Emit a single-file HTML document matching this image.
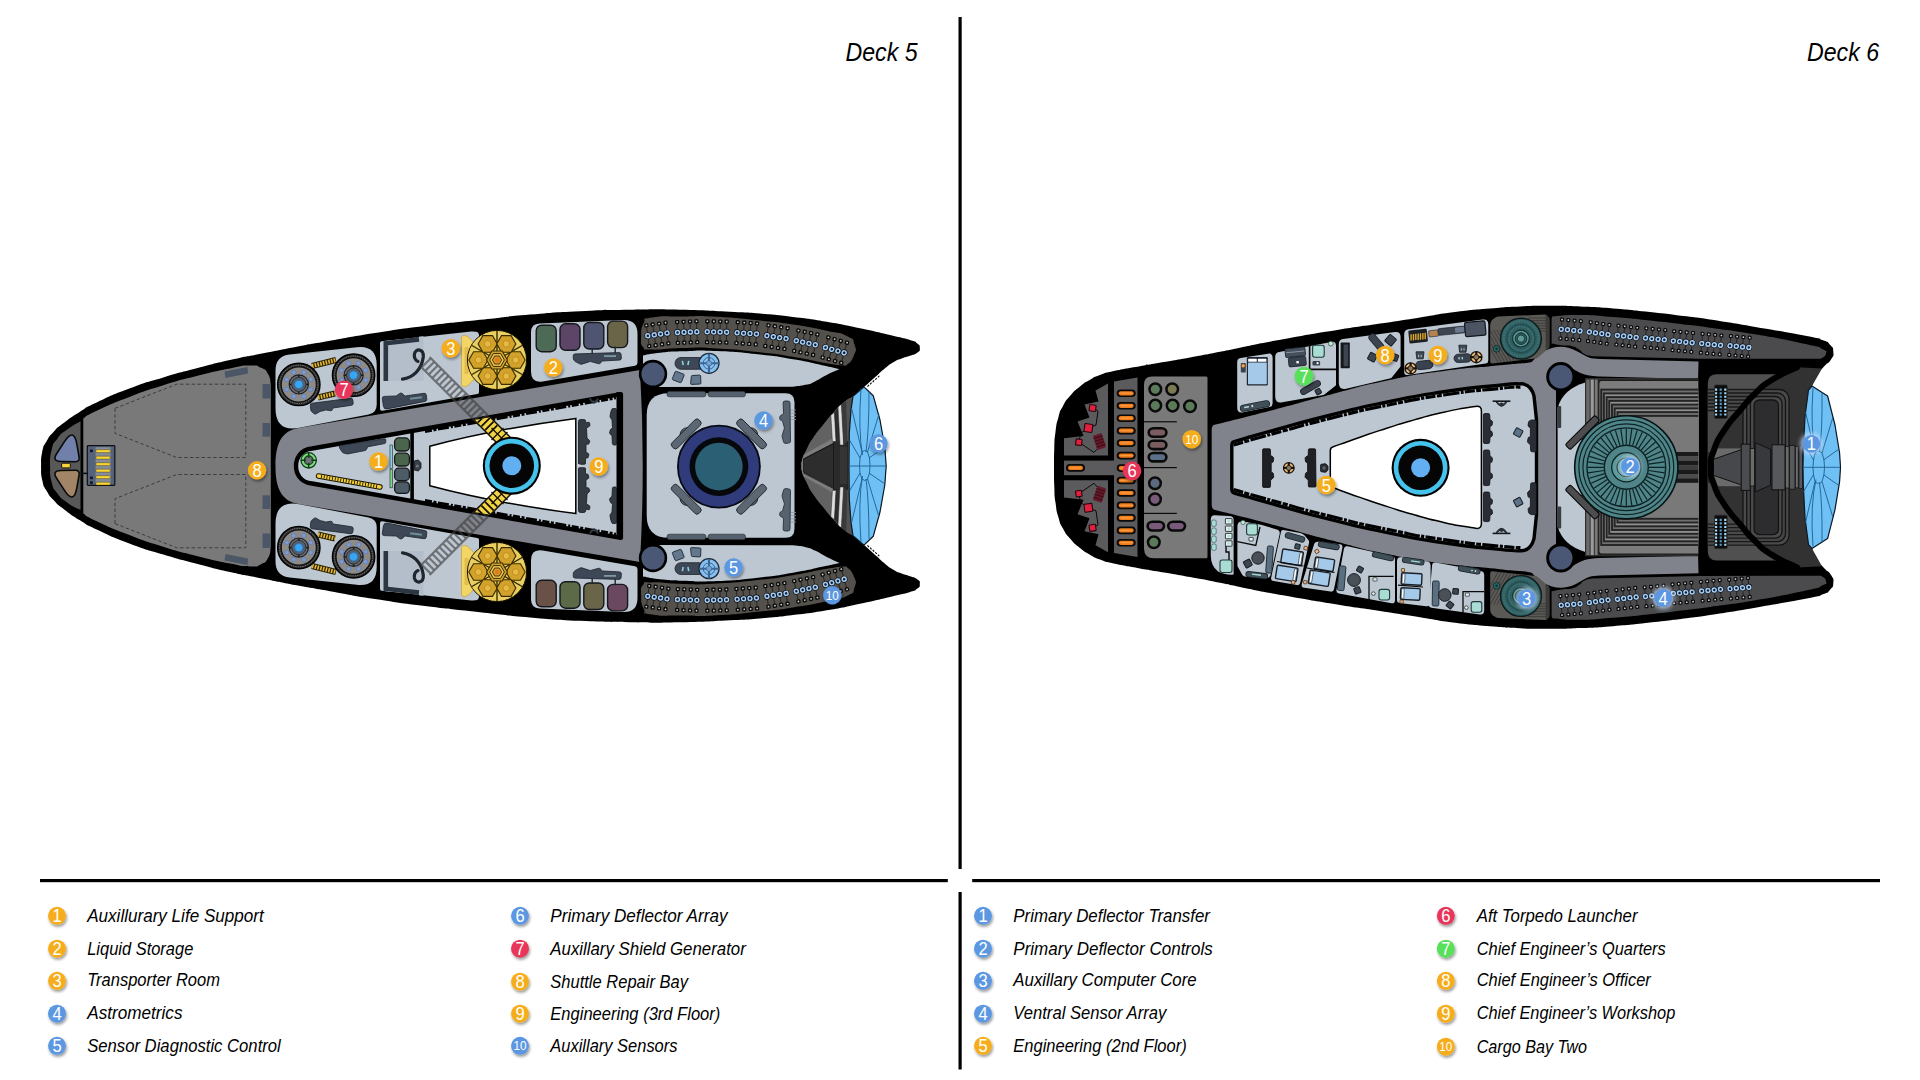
<!DOCTYPE html>
<html><head><meta charset="utf-8"><title>Deck 5 / Deck 6</title>
<style>
html,body{margin:0;padding:0;background:#fff;}
body{width:1920px;height:1080px;overflow:hidden;position:relative;font-family:"Liberation Sans",sans-serif;}
svg{position:absolute;left:0;top:0;display:block;}
svg text{font-family:"Liberation Sans",sans-serif;font-style:italic;fill:#000;}
</style></head><body>
<svg width="1920" height="1080" viewBox="0 0 1920 1080">
<defs>
<filter id="ds" x="-60%" y="-60%" width="240%" height="240%"><feGaussianBlur in="SourceAlpha" stdDeviation="1.6" result="b"/><feOffset in="b" dx="1.2" dy="2" result="o"/><feComponentTransfer in="o" result="s"><feFuncA type="linear" slope="0.42"/></feComponentTransfer><feMerge><feMergeNode in="s"/><feMergeNode in="SourceGraphic"/></feMerge></filter>
<filter id="bl" x="-80%" y="-80%" width="260%" height="260%"><feGaussianBlur stdDeviation="2"/></filter>
<filter id="gl" x="-80%" y="-80%" width="260%" height="260%"><feGaussianBlur in="SourceGraphic" stdDeviation="2.2" result="b"/><feMerge><feMergeNode in="b"/><feMergeNode in="SourceGraphic"/></feMerge></filter>
<g id="sc5"><rect x="-0.5" y="-8.5" width="1" height="17" fill="#262422"/><rect x="-2.1" y="-12.6" width="4.2" height="4.2" fill="#090909" rx="1.2"/><rect x="-0.8" y="-11.3" width="1.6" height="1.6" fill="#cfd6d8" rx="0.3"/><circle cx="0" cy="0" r="3.4" fill="#0a0e14"/><circle cx="0" cy="0" r="2" fill="#0c1c3e" stroke="#a6cdf0" stroke-width="1.5"/><rect x="-2.1" y="8.3" width="4.2" height="4.2" fill="#090909" rx="1.2"/><rect x="-0.8" y="9.6" width="1.6" height="1.6" fill="#cfd6d8" rx="0.3"/><rect x="6" y="-8.5" width="1" height="17" fill="#262422"/><rect x="4.3" y="-12.6" width="4.2" height="4.2" fill="#090909" rx="1.2"/><rect x="5.7" y="-11.3" width="1.6" height="1.6" fill="#cfd6d8" rx="0.3"/><circle cx="6.5" cy="0" r="3.4" fill="#0a0e14"/><circle cx="6.5" cy="0" r="2" fill="#0c1c3e" stroke="#a6cdf0" stroke-width="1.5"/><rect x="4.3" y="8.3" width="4.2" height="4.2" fill="#090909" rx="1.2"/><rect x="5.7" y="9.6" width="1.6" height="1.6" fill="#cfd6d8" rx="0.3"/><rect x="12.4" y="-8.5" width="1" height="17" fill="#262422"/><rect x="10.8" y="-12.6" width="4.2" height="4.2" fill="#090909" rx="1.2"/><rect x="12.1" y="-11.3" width="1.6" height="1.6" fill="#cfd6d8" rx="0.3"/><circle cx="12.9" cy="0" r="3.4" fill="#0a0e14"/><circle cx="12.9" cy="0" r="2" fill="#0c1c3e" stroke="#a6cdf0" stroke-width="1.5"/><rect x="10.8" y="8.3" width="4.2" height="4.2" fill="#090909" rx="1.2"/><rect x="12.1" y="9.6" width="1.6" height="1.6" fill="#cfd6d8" rx="0.3"/><rect x="18.9" y="-8.5" width="1" height="17" fill="#262422"/><rect x="17.2" y="-12.6" width="4.2" height="4.2" fill="#090909" rx="1.2"/><rect x="18.6" y="-11.3" width="1.6" height="1.6" fill="#cfd6d8" rx="0.3"/><circle cx="19.4" cy="0" r="3.4" fill="#0a0e14"/><circle cx="19.4" cy="0" r="2" fill="#0c1c3e" stroke="#a6cdf0" stroke-width="1.5"/><rect x="17.2" y="8.3" width="4.2" height="4.2" fill="#090909" rx="1.2"/><rect x="18.6" y="9.6" width="1.6" height="1.6" fill="#cfd6d8" rx="0.3"/></g>
<g id="wh5"><circle cx="0" cy="0" r="21.2" fill="#2a2a2a" stroke="#000" stroke-width="1.4"/><circle cx="0" cy="0" r="19.2" fill="none" stroke="#999" stroke-width="0.8" stroke-dasharray="1.2 1.2"/><circle cx="0" cy="0" r="17.6" fill="#8d8b88" stroke="#111" stroke-width="1.2"/><circle cx="12" cy="5" r="2.2" fill="#7f9ad0" stroke="#5a78b8" stroke-width="0.6"/><circle cx="5" cy="12" r="2.2" fill="#7f9ad0" stroke="#5a78b8" stroke-width="0.6"/><circle cx="-5" cy="12" r="2.2" fill="#7f9ad0" stroke="#5a78b8" stroke-width="0.6"/><circle cx="-12" cy="5" r="2.2" fill="#7f9ad0" stroke="#5a78b8" stroke-width="0.6"/><circle cx="-12" cy="-5" r="2.2" fill="#7f9ad0" stroke="#5a78b8" stroke-width="0.6"/><circle cx="-5" cy="-12" r="2.2" fill="#7f9ad0" stroke="#5a78b8" stroke-width="0.6"/><circle cx="5" cy="-12" r="2.2" fill="#7f9ad0" stroke="#5a78b8" stroke-width="0.6"/><circle cx="12" cy="-5" r="2.2" fill="#7f9ad0" stroke="#5a78b8" stroke-width="0.6"/><circle cx="0" cy="0" r="9.6" fill="#6b7078" stroke="#222" stroke-width="1.2"/><circle cx="0" cy="0" r="7.2" fill="#55606e" stroke="#222" stroke-width="0.8"/><circle cx="8.4" cy="0" r="0.9" fill="#111"/><circle cx="0" cy="8.4" r="0.9" fill="#111"/><circle cx="-8.4" cy="0" r="0.9" fill="#111"/><circle cx="-0" cy="-8.4" r="0.9" fill="#111"/><circle cx="0" cy="0" r="4.2" fill="#38a4f2" stroke="#2a6aa8" stroke-width="0.6"/></g>
<g id="tp5"><circle cx="0" cy="0" r="29.6" fill="#e9cf62" stroke="#1a1400" stroke-width="1"/><line x1="0" y1="0" x2="25.1" y2="14.5" stroke="#3a2c00" stroke-width="1.4"/><line x1="0" y1="0" x2="0" y2="29" stroke="#3a2c00" stroke-width="1.4"/><line x1="0" y1="0" x2="-25.1" y2="14.5" stroke="#3a2c00" stroke-width="1.4"/><line x1="0" y1="0" x2="-25.1" y2="-14.5" stroke="#3a2c00" stroke-width="1.4"/><line x1="0" y1="0" x2="-0" y2="-29" stroke="#3a2c00" stroke-width="1.4"/><line x1="0" y1="0" x2="25.1" y2="-14.5" stroke="#3a2c00" stroke-width="1.4"/><polygon points="28.2,0 23.4,8.3 13.8,8.3 9,0 13.8,-8.3 23.4,-8.3" fill="#d3a22b" stroke="#3a2c00" stroke-width="1.1"/><circle cx="18.6" cy="0" r="3.3" fill="#e6b944" stroke="#b8861a" stroke-width="0.8"/><polygon points="18.9,16.1 14.1,24.4 4.5,24.4 -0.3,16.1 4.5,7.8 14.1,7.8" fill="#d3a22b" stroke="#3a2c00" stroke-width="1.1"/><circle cx="9.3" cy="16.1" r="3.3" fill="#e6b944" stroke="#b8861a" stroke-width="0.8"/><polygon points="0.3,16.1 -4.5,24.4 -14.1,24.4 -18.9,16.1 -14.1,7.8 -4.5,7.8" fill="#d3a22b" stroke="#3a2c00" stroke-width="1.1"/><circle cx="-9.3" cy="16.1" r="3.3" fill="#e6b944" stroke="#b8861a" stroke-width="0.8"/><polygon points="-9,0 -13.8,8.3 -23.4,8.3 -28.2,0 -23.4,-8.3 -13.8,-8.3" fill="#d3a22b" stroke="#3a2c00" stroke-width="1.1"/><circle cx="-18.6" cy="0" r="3.3" fill="#e6b944" stroke="#b8861a" stroke-width="0.8"/><polygon points="0.3,-16.1 -4.5,-7.8 -14.1,-7.8 -18.9,-16.1 -14.1,-24.4 -4.5,-24.4" fill="#d3a22b" stroke="#3a2c00" stroke-width="1.1"/><circle cx="-9.3" cy="-16.1" r="3.3" fill="#e6b944" stroke="#b8861a" stroke-width="0.8"/><polygon points="18.9,-16.1 14.1,-7.8 4.5,-7.8 -0.3,-16.1 4.5,-24.4 14.1,-24.4" fill="#d3a22b" stroke="#3a2c00" stroke-width="1.1"/><circle cx="9.3" cy="-16.1" r="3.3" fill="#e6b944" stroke="#b8861a" stroke-width="0.8"/><polygon points="10.4,0 5.2,9 -5.2,9 -10.4,0 -5.2,-9 5.2,-9" fill="#d3a22b" stroke="#3a2c00" stroke-width="1.1"/><polygon points="7.4,0 3.7,6.4 -3.7,6.4 -7.4,0 -3.7,-6.4 3.7,-6.4" fill="#e9c654" stroke="#3a2c00" stroke-width="1"/><polygon points="4.6,0 2.3,4 -2.3,4 -4.6,0 -2.3,-4 2.3,-4" fill="#d89a2a" stroke="#3a2c00" stroke-width="0.9"/><circle cx="0" cy="0" r="2.2" fill="#e07a1a"/></g>
<g id="sc6"><rect x="-0.5" y="-8" width="1" height="16" fill="#232325"/><rect x="-2" y="-11.8" width="4" height="4" fill="#090909" rx="1.2"/><rect x="-0.8" y="-10.6" width="1.6" height="1.6" fill="#cfd6d8" rx="0.3"/><circle cx="0" cy="0" r="3.3" fill="#0a0e14"/><circle cx="0" cy="0" r="2" fill="#0c1c3e" stroke="#a6cdf0" stroke-width="1.5"/><rect x="-2" y="7.2" width="4" height="4" fill="#090909" rx="1.2"/><rect x="-0.8" y="8.4" width="1.6" height="1.6" fill="#cfd6d8" rx="0.3"/><rect x="5.8" y="-8" width="1" height="16" fill="#232325"/><rect x="4.3" y="-11.8" width="4" height="4" fill="#090909" rx="1.2"/><rect x="5.5" y="-10.6" width="1.6" height="1.6" fill="#cfd6d8" rx="0.3"/><circle cx="6.3" cy="0" r="3.3" fill="#0a0e14"/><circle cx="6.3" cy="0" r="2" fill="#0c1c3e" stroke="#a6cdf0" stroke-width="1.5"/><rect x="4.3" y="7.2" width="4" height="4" fill="#090909" rx="1.2"/><rect x="5.5" y="8.4" width="1.6" height="1.6" fill="#cfd6d8" rx="0.3"/><rect x="12.1" y="-8" width="1" height="16" fill="#232325"/><rect x="10.6" y="-11.8" width="4" height="4" fill="#090909" rx="1.2"/><rect x="11.8" y="-10.6" width="1.6" height="1.6" fill="#cfd6d8" rx="0.3"/><circle cx="12.6" cy="0" r="3.3" fill="#0a0e14"/><circle cx="12.6" cy="0" r="2" fill="#0c1c3e" stroke="#a6cdf0" stroke-width="1.5"/><rect x="10.6" y="7.2" width="4" height="4" fill="#090909" rx="1.2"/><rect x="11.8" y="8.4" width="1.6" height="1.6" fill="#cfd6d8" rx="0.3"/><rect x="18.4" y="-8" width="1" height="16" fill="#232325"/><rect x="16.9" y="-11.8" width="4" height="4" fill="#090909" rx="1.2"/><rect x="18.1" y="-10.6" width="1.6" height="1.6" fill="#cfd6d8" rx="0.3"/><circle cx="18.9" cy="0" r="3.3" fill="#0a0e14"/><circle cx="18.9" cy="0" r="2" fill="#0c1c3e" stroke="#a6cdf0" stroke-width="1.5"/><rect x="16.9" y="7.2" width="4" height="4" fill="#090909" rx="1.2"/><rect x="18.1" y="8.4" width="1.6" height="1.6" fill="#cfd6d8" rx="0.3"/></g>
<g id="cc6"><circle cx="0" cy="0" r="20.4" fill="#2e5c5f" stroke="#0c1a1a" stroke-width="1.4"/><circle cx="0" cy="0" r="17.5" fill="none" stroke="#467a7c" stroke-width="2.6" stroke-dasharray="0.7 0.9"/><circle cx="0" cy="0" r="14.2" fill="none" stroke="#1a4446" stroke-width="0.8"/><circle cx="0" cy="0" r="12" fill="none" stroke="#467a7c" stroke-width="1.8" stroke-dasharray="0.7 0.9"/><circle cx="0" cy="0" r="8.4" fill="#5f9a98" stroke="#11302f" stroke-width="1.2"/><circle cx="0" cy="0" r="5.8" fill="#2e5c5f" stroke="#11302f" stroke-width="1"/><circle cx="0" cy="0" r="3.6" fill="#5f9a98" stroke="#11302f" stroke-width="0.8"/></g>
<g id="cap6"><rect x="-9.5" y="-3.8" width="19" height="7.6" fill="#0a0a0a" rx="3.8"/><rect x="-7.5" y="-2.1" width="15" height="4.2" fill="#ee7d1c" rx="2.1"/><rect x="-6" y="-0.7" width="12" height="1.2" fill="#ff9a40" rx="0.6"/></g>
<g id="st6"><circle cx="0" cy="0" r="5.6" fill="#e8bb80" stroke="#1a1208" stroke-width="1.3"/><path d="M0 -5.6V5.6M-5.6 0H5.6" fill="none" stroke="#1a1208" stroke-width="2.2"/><circle cx="0" cy="0" r="2.6" fill="#8a7a62" stroke="#1a1208" stroke-width="0.9"/></g>
</defs>
<g id="frame">
<rect x="958.5" y="17" width="3.2" height="852" fill="#000"/>
<rect x="958.5" y="892" width="3.2" height="177.5" fill="#000"/>
<rect x="40" y="879" width="907.8" height="3.2" fill="#000"/>
<rect x="972.2" y="879" width="907.8" height="3.2" fill="#000"/>
<text x="845.5" y="60.7" font-size="26" textLength="72" lengthAdjust="spacingAndGlyphs">Deck 5</text>
<text x="1807" y="60.7" font-size="26" textLength="72" lengthAdjust="spacingAndGlyphs">Deck 6</text>
<g filter="url(#ds)"><circle cx="57" cy="915.8" r="9" fill="#f6ad1e"/></g><text x="57" y="922.3" font-size="18.4" text-anchor="middle" style="fill:#fff;font-style:normal" textLength="9.2" lengthAdjust="spacingAndGlyphs">1</text>
<text x="87.2" y="921.7" font-size="17.6" textLength="176.5" lengthAdjust="spacingAndGlyphs">Auxillurary Life Support</text>
<g filter="url(#ds)"><circle cx="57" cy="948.7" r="9" fill="#f6ad1e"/></g><text x="57" y="955.2" font-size="18.4" text-anchor="middle" style="fill:#fff;font-style:normal" textLength="9.2" lengthAdjust="spacingAndGlyphs">2</text>
<text x="87.2" y="954.7" font-size="17.6" textLength="106.1" lengthAdjust="spacingAndGlyphs">Liquid Storage</text>
<g filter="url(#ds)"><circle cx="57" cy="980.8" r="9" fill="#f6ad1e"/></g><text x="57" y="987.3" font-size="18.4" text-anchor="middle" style="fill:#fff;font-style:normal" textLength="9.2" lengthAdjust="spacingAndGlyphs">3</text>
<text x="87.2" y="986.2" font-size="17.6" textLength="132.8" lengthAdjust="spacingAndGlyphs">Transporter Room</text>
<g filter="url(#ds)"><circle cx="57" cy="1013.7" r="9" fill="#5b97e2"/></g><text x="57" y="1020.2" font-size="18.4" text-anchor="middle" style="fill:#fff;font-style:normal" textLength="9.2" lengthAdjust="spacingAndGlyphs">4</text>
<text x="87.2" y="1018.7" font-size="17.6" textLength="95.3" lengthAdjust="spacingAndGlyphs">Astrometrics</text>
<g filter="url(#ds)"><circle cx="57" cy="1045.8" r="9" fill="#5b97e2"/></g><text x="57" y="1052.3" font-size="18.4" text-anchor="middle" style="fill:#fff;font-style:normal" textLength="9.2" lengthAdjust="spacingAndGlyphs">5</text>
<text x="87.2" y="1051.7" font-size="17.6" textLength="193.6" lengthAdjust="spacingAndGlyphs">Sensor Diagnostic Control</text>
<g filter="url(#ds)"><circle cx="520" cy="915.8" r="9" fill="#5b97e2"/></g><text x="520" y="922.3" font-size="18.4" text-anchor="middle" style="fill:#fff;font-style:normal" textLength="9.2" lengthAdjust="spacingAndGlyphs">6</text>
<text x="550.3" y="921.7" font-size="17.6" textLength="177.2" lengthAdjust="spacingAndGlyphs">Primary Deflector Array</text>
<g filter="url(#ds)"><circle cx="520" cy="948.7" r="9" fill="#e8365a"/></g><text x="520" y="955.2" font-size="18.4" text-anchor="middle" style="fill:#fff;font-style:normal" textLength="9.2" lengthAdjust="spacingAndGlyphs">7</text>
<text x="550.3" y="954.7" font-size="17.6" textLength="195.5" lengthAdjust="spacingAndGlyphs">Auxillary Shield Generator</text>
<g filter="url(#ds)"><circle cx="520" cy="981.7" r="9" fill="#f6ad1e"/></g><text x="520" y="988.2" font-size="18.4" text-anchor="middle" style="fill:#fff;font-style:normal" textLength="9.2" lengthAdjust="spacingAndGlyphs">8</text>
<text x="550.3" y="988" font-size="17.6" textLength="137.7" lengthAdjust="spacingAndGlyphs">Shuttle Repair Bay</text>
<g filter="url(#ds)"><circle cx="520" cy="1013.7" r="9" fill="#f6ad1e"/></g><text x="520" y="1020.2" font-size="18.4" text-anchor="middle" style="fill:#fff;font-style:normal" textLength="9.2" lengthAdjust="spacingAndGlyphs">9</text>
<text x="550.3" y="1019.7" font-size="17.6" textLength="170" lengthAdjust="spacingAndGlyphs">Engineering (3rd Floor)</text>
<g filter="url(#ds)"><circle cx="520" cy="1045.8" r="9" fill="#5b97e2"/></g><text x="520" y="1050.3" font-size="12.6" text-anchor="middle" style="fill:#fff;font-style:normal" textLength="13" lengthAdjust="spacingAndGlyphs">10</text>
<text x="550.3" y="1051.7" font-size="17.6" textLength="127.2" lengthAdjust="spacingAndGlyphs">Auxillary Sensors</text>
<g filter="url(#ds)"><circle cx="983" cy="915.8" r="9" fill="#5b97e2"/></g><text x="983" y="922.3" font-size="18.4" text-anchor="middle" style="fill:#fff;font-style:normal" textLength="9.2" lengthAdjust="spacingAndGlyphs">1</text>
<text x="1013.3" y="921.7" font-size="17.6" textLength="196.7" lengthAdjust="spacingAndGlyphs">Primary Deflector Transfer</text>
<g filter="url(#ds)"><circle cx="983" cy="948.7" r="9" fill="#5b97e2"/></g><text x="983" y="955.2" font-size="18.4" text-anchor="middle" style="fill:#fff;font-style:normal" textLength="9.2" lengthAdjust="spacingAndGlyphs">2</text>
<text x="1013.3" y="954.7" font-size="17.6" textLength="199.5" lengthAdjust="spacingAndGlyphs">Primary Deflector Controls</text>
<g filter="url(#ds)"><circle cx="983" cy="980.8" r="9" fill="#5b97e2"/></g><text x="983" y="987.3" font-size="18.4" text-anchor="middle" style="fill:#fff;font-style:normal" textLength="9.2" lengthAdjust="spacingAndGlyphs">3</text>
<text x="1013.3" y="986.2" font-size="17.6" textLength="183.4" lengthAdjust="spacingAndGlyphs">Auxillary Computer Core</text>
<g filter="url(#ds)"><circle cx="983" cy="1013.7" r="9" fill="#5b97e2"/></g><text x="983" y="1020.2" font-size="18.4" text-anchor="middle" style="fill:#fff;font-style:normal" textLength="9.2" lengthAdjust="spacingAndGlyphs">4</text>
<text x="1013.3" y="1018.7" font-size="17.6" textLength="153" lengthAdjust="spacingAndGlyphs">Ventral Sensor Array</text>
<g filter="url(#ds)"><circle cx="983" cy="1045.8" r="9" fill="#f6ad1e"/></g><text x="983" y="1052.3" font-size="18.4" text-anchor="middle" style="fill:#fff;font-style:normal" textLength="9.2" lengthAdjust="spacingAndGlyphs">5</text>
<text x="1013.3" y="1051.7" font-size="17.6" textLength="173.4" lengthAdjust="spacingAndGlyphs">Engineering (2nd Floor)</text>
<g filter="url(#ds)"><circle cx="1445.8" cy="915.8" r="9" fill="#e8365a"/></g><text x="1445.8" y="922.3" font-size="18.4" text-anchor="middle" style="fill:#fff;font-style:normal" textLength="9.2" lengthAdjust="spacingAndGlyphs">6</text>
<text x="1476.7" y="921.7" font-size="17.6" textLength="160.8" lengthAdjust="spacingAndGlyphs">Aft Torpedo Launcher</text>
<g filter="url(#ds)"><circle cx="1445.8" cy="948.7" r="9" fill="#58e05a"/></g><text x="1445.8" y="955.2" font-size="18.4" text-anchor="middle" style="fill:#fff;font-style:normal" textLength="9.2" lengthAdjust="spacingAndGlyphs">7</text>
<text x="1476.7" y="954.7" font-size="17.6" textLength="189.1" lengthAdjust="spacingAndGlyphs">Chief Engineer’s Quarters</text>
<g filter="url(#ds)"><circle cx="1445.8" cy="980.8" r="9" fill="#f6ad1e"/></g><text x="1445.8" y="987.3" font-size="18.4" text-anchor="middle" style="fill:#fff;font-style:normal" textLength="9.2" lengthAdjust="spacingAndGlyphs">8</text>
<text x="1476.7" y="986.2" font-size="17.6" textLength="174.1" lengthAdjust="spacingAndGlyphs">Chief Engineer’s Officer</text>
<g filter="url(#ds)"><circle cx="1445.8" cy="1013.7" r="9" fill="#f6ad1e"/></g><text x="1445.8" y="1020.2" font-size="18.4" text-anchor="middle" style="fill:#fff;font-style:normal" textLength="9.2" lengthAdjust="spacingAndGlyphs">9</text>
<text x="1476.7" y="1018.7" font-size="17.6" textLength="198.6" lengthAdjust="spacingAndGlyphs">Chief Engineer’s Workshop</text>
<g filter="url(#ds)"><circle cx="1445.8" cy="1046.7" r="9" fill="#f6ad1e"/></g><text x="1445.8" y="1051.2" font-size="12.6" text-anchor="middle" style="fill:#fff;font-style:normal" textLength="13" lengthAdjust="spacingAndGlyphs">10</text>
<text x="1476.7" y="1052.5" font-size="17.6" textLength="110.3" lengthAdjust="spacingAndGlyphs">Cargo Bay Two</text>
</g>
<g id="deck5">
<path d="M41 466C41.4 461.3 40.3 460.3 42.2 452C44.1 443.7 42.8 447.8 46.7 441C50.6 434.2 48.5 437.4 54 431.5C59.5 425.6 54.6 429.9 63.3 423.3C72 416.7 68.9 418.6 80 411.7C91.1 404.8 80 410.3 96.7 402.5C113.4 394.7 107.8 396.6 130 388.3C152.2 380 141.1 384.2 163.3 377.5C185.5 370.8 174.5 374.1 196.7 368.3C218.9 362.5 207.8 365 230 360C252.2 355 241.1 357.7 263.3 353.3C285.5 348.9 274.5 350.9 296.7 346.7C318.9 342.5 303.9 345.4 330 340.8C356.1 336.2 343.3 337.9 375 333C406.7 328.1 390 330.4 425 326C460 321.6 445 323.6 480 319.8C515 316 496.7 317.5 530 314.6C563.3 311.7 546.7 312.8 580 311.2C613.3 309.6 596.7 310.3 630 309.8C663.3 309.3 646.7 309.1 680 309.8C713.3 310.5 703.3 310.5 730 311.8C756.7 313.1 739 311.9 760 313.6C781 315.3 770.8 314.2 793 316.9C815.2 319.6 804.4 317.9 826.7 321.7C849 325.5 837.9 323.6 860 328.3C882.1 333 876.3 331.9 893 335.8C909.7 339.7 902 337.5 910 340C918 342.5 913.7 340.5 917 343.2C920.3 345.9 919.7 344.8 919.8 348C919.9 351.2 920.5 350.2 917.2 352.8C913.9 355.4 915.2 353.9 910 355.8C904.8 357.7 907.4 356.3 901.7 358.5C896 360.7 898.6 359.2 893 362.5C887.4 365.8 890.4 363.9 885 368.3C879.6 372.7 882.3 370.8 876.7 375.8C871.1 380.8 872.5 379.6 868.3 383.3C864.1 387 865.4 385.7 864 386.9L873.3 395.8L880 420L884.8 447L886.2 466L884.8 485L880 512L873.3 536.2L864 545.1C865.4 546.3 864.1 545 868.3 548.7C872.5 552.4 871.1 551.2 876.7 556.2C882.3 561.2 879.6 559.3 885 563.7C890.4 568.1 887.4 566.2 893 569.5C898.6 572.8 896 571.3 901.7 573.5C907.4 575.7 904.8 574.3 910 576.2C915.2 578.1 913.9 576.6 917.2 579.2C920.5 581.8 919.9 580.8 919.8 584C919.7 587.2 920.3 586.1 917 588.8C913.7 591.5 918 589.5 910 592C902 594.5 909.7 592.3 893 596.2C876.3 600.1 882.1 599 860 603.7C837.9 608.4 849 606.5 826.7 610.3C804.4 614.1 815.2 612.4 793 615.1C770.8 617.8 781 616.7 760 618.4C739 620.1 756.7 618.9 730 620.2C703.3 621.5 713.3 621.5 680 622.2C646.7 622.9 663.3 622.7 630 622.2C596.7 621.7 613.3 622.4 580 620.8C546.7 619.2 563.3 620.3 530 617.4C496.7 614.5 515 616 480 612.2C445 608.4 460 610.4 425 606C390 601.6 406.7 603.9 375 599C343.3 594.1 356.1 595.8 330 591.2C303.9 586.6 318.9 589.5 296.7 585.3C274.5 581.1 285.5 583.1 263.3 578.7C241.1 574.3 252.2 577 230 572C207.8 567 218.9 569.5 196.7 563.7C174.5 557.9 185.5 561.2 163.3 554.5C141.1 547.8 152.2 552 130 543.7C107.8 535.4 113.4 537.3 96.7 529.5C80 521.7 91.1 527.2 80 520.3C68.9 513.4 72 515.3 63.3 508.7C54.6 502.1 59.5 506.4 54 500.5C48.5 494.6 50.6 497.8 46.7 491C42.8 484.2 44.1 488.3 42.2 480C40.3 471.7 41.4 470.7 41 466Z" fill="#000"/>
<path d="M50 466C50.5 460.7 49.1 459.2 51.6 450C54.1 440.8 52.5 445.2 57.5 438.5C62.5 431.8 58.8 435.8 66.5 430C74.2 424.2 75.8 424.1 80.5 421.2L80.5 509.8C75.8 507.9 74.2 507.8 66.5 502C58.8 496.2 62.5 500.2 57.5 493.5C52.5 486.8 54.1 491.2 51.6 482C49.1 472.8 50.5 471.3 50 466Z" fill="#585858"/>
<path d="M60.8 461.5Q51.8 461.3 56.6 453.8L64.3 441.9Q73.8 427 76.9 444.4L79.1 457Q80 461.8 75.1 461.7Z" fill="#7080aa" stroke="#0a0a0a" stroke-width="1.6"/>
<path d="M60.8 470.5Q51.8 470.7 56.6 478.2L64.3 490.1Q73.8 505 76.9 487.6L79.1 475Q80 470.2 75.1 470.3Z" fill="#a18566" stroke="#0a0a0a" stroke-width="1.6"/>
<rect x="61.6" y="463.2" width="8.7" height="4.7" fill="#f6d43a" rx="0.6" stroke="#111" stroke-width="1"/>
<path d="M83.3 418.6C87.8 416 81.1 418.1 96.7 410.8C112.3 403.5 107.8 405.2 130 396.7C152.2 388.2 141.1 392.1 163.3 385.2C185.5 378.3 174.5 381.6 196.7 376C218.9 370.4 212.2 372 230 368.5C247.8 365 239.7 365.8 250 365.6C260.3 365.4 255 365 261 367.8C267 370.6 264.7 368.6 268 374C271.3 379.4 269.9 380.7 270.8 384L270.8 547C269.9 551.3 271.3 552.6 268 558C264.7 563.4 267 561.4 261 564.2C255 567 260.3 566.6 250 566.4C239.7 566.2 247.8 567 230 563.5C212.2 560 218.9 561.6 196.7 556C174.5 550.4 185.5 553.7 163.3 546.8C141.1 539.9 152.2 543.8 130 535.3C107.8 526.8 112.3 528.5 96.7 521.2C81.1 513.9 87.8 516 83.3 513.4Z" fill="#797979"/>
<path d="M115 408.3L176.7 384.2L245.8 384.2L245.8 457.5L176.7 457.5L115 433.3Z" fill="none" stroke="#3c3c3c" stroke-width="1" stroke-dasharray="3.4 2.4"/>
<path d="M115 523.7L176.7 547.8L245.8 547.8L245.8 474.5L176.7 474.5L115 498.7Z" fill="none" stroke="#3c3c3c" stroke-width="1" stroke-dasharray="3.4 2.4"/>
<rect x="262.5" y="384" width="8.3" height="14.5" fill="#4b5666"/>
<rect x="262.5" y="533.5" width="8.3" height="14.5" fill="#4b5666"/>
<rect x="262.5" y="423" width="7.5" height="13.7" fill="#4b5666"/>
<rect x="262.5" y="495.3" width="7.5" height="13.7" fill="#4b5666"/>
<path d="M224.5 371.5L247.5 367L248 373.5L225.5 378Z" fill="#4b5666"/>
<path d="M224.5 560.5L247.5 565L248 558.5L225.5 554Z" fill="#4b5666"/>
<rect x="87.3" y="445.7" width="27.5" height="39.6" fill="#55637a" rx="0.8" stroke="#0c1016" stroke-width="1.2"/>
<rect x="95.6" y="447.2" width="15" height="36.6" fill="#868d96"/>
<rect x="80.5" y="472.6" width="7" height="1.6" fill="#0c1016"/>
<rect x="96" y="449.7" width="14.2" height="2.9" fill="#f6d43a" rx="0.6" stroke="#3a3000" stroke-width="0.4"/>
<rect x="96" y="456.2" width="14.2" height="2.9" fill="#f6d43a" rx="0.6" stroke="#3a3000" stroke-width="0.4"/>
<rect x="96" y="462.7" width="14.2" height="2.9" fill="#f6d43a" rx="0.6" stroke="#3a3000" stroke-width="0.4"/>
<rect x="96" y="469.2" width="14.2" height="2.9" fill="#f6d43a" rx="0.6" stroke="#3a3000" stroke-width="0.4"/>
<rect x="96" y="475.7" width="14.2" height="2.9" fill="#f6d43a" rx="0.6" stroke="#3a3000" stroke-width="0.4"/>
<rect x="96" y="482.2" width="14.2" height="2.9" fill="#f6d43a" rx="0.6" stroke="#3a3000" stroke-width="0.4"/>
<rect x="90" y="449.4" width="2.8" height="2.8" fill="#10141c" rx="0.8"/>
<rect x="90" y="476.4" width="2.8" height="2.8" fill="#10141c" rx="0.8"/>
<rect x="90" y="481.2" width="2.8" height="2.8" fill="#10141c" rx="0.8"/>
<path d="M300 427.8L640 370Q645.5 466 640 562L300 504.2C279 501.6 275.5 484 275.5 466C275.5 448 279 430.4 300 427.8 Z" fill="#80838b"/>
<path d="M312 448.5L620.9 394.2L620.9 537.8L312 483.5C300 482.4 296 473 296 466C296 459 300 449.6 312 448.5 Z" fill="#bdc7d1" stroke="#000" stroke-width="4.4" stroke-linejoin="round"/>
<g id="d5top"><path d="M275.5 370.4Q275.5 356 289.8 354.4L356.8 347.2Q376.7 345 376.7 365.1L376.7 404.7Q376.7 413 368.6 414.6L299.3 427.8Q275.5 432.4 275.5 408.2Z" fill="#bdc7d1"/><line x1="312" y1="366" x2="336" y2="360" stroke="#2a2200" stroke-width="6"/><line x1="312" y1="366" x2="336" y2="360" stroke="#e6b93a" stroke-width="4.2" stroke-dasharray="1.6 1.2"/><line x1="318" y1="397.5" x2="335" y2="393.5" stroke="#2a2200" stroke-width="6"/><line x1="318" y1="397.5" x2="335" y2="393.5" stroke="#e6b93a" stroke-width="4.2" stroke-dasharray="1.6 1.2"/><use href="#wh5" x="298.8" y="384.4"/><use href="#wh5" x="353.6" y="375.2"/><path d="M310.3 405.5Q310 403.5 312 403.2L350.5 398.3Q352.5 398 352.8 400L353.2 403Q353.5 405 351.5 405.3L333.6 407.9Q333 408 332.8 408.6L332.5 409.5Q332 411 330.4 410.7L326.4 410.1Q326 410 325.6 410.1L320.3 411.4Q320 411.5 319.7 411.7L316.2 413.8Q315 414.5 313.9 413.5L311.6 411.5Q311 411 310.9 410.3Z" fill="#3d4755" stroke="#1c222c" stroke-width="0.8"/><path d="M380 343.3Q380 341.5 381.8 341.3L471.3 331.6Q472 331.5 472.7 331.6L475.5 331.8Q479 332 479 335.5L479 392.2Q479 393.9 477.3 394.1L382.3 410.8Q380 411.2 380 408.8Z" fill="#bdc7d1"/><path d="M383.8 341L418 338L419.5 336.6L423.5 336.2L423.5 381L383.8 381Z" fill="#b3beca"/><path d="M385.8 381V343.2L419 339.4" fill="none" stroke="#2c3642" stroke-width="4.6"/><path d="M402.5 379.2C413 377.5 421.5 370 423.3 357C424 348.5 415.6 348 414.4 354C414 357.5 415.6 360.4 418 361.4" fill="none" stroke="#20262e" stroke-width="3.2" stroke-linecap="round"/><path d="M382.3 398.7Q382 396.5 384.2 396.4L395.4 396Q396 396 396.5 395.7L399.7 393.4Q401 392.5 402.2 393.5L404.7 395.7Q405 396 405.5 395.9L424 393.3Q426 393 426.3 395L426.8 399.2Q427 401 425.2 401.4L387.1 408.9Q384 409.5 383.5 406.4Z" fill="#3d4755" stroke="#1c222c" stroke-width="0.8"/><rect x="410" y="397" width="12" height="2" fill="#6f8f99" transform="rotate(-8 416 398)"/><path d="M461.5 337.5Q461.5 335.5 463.5 335.5L464.4 335.5Q467 335.5 468.8 337.4L476.2 345.1Q477 346 477 347.2L477 374.8Q477 376 476.2 376.9L468.8 384.6Q467 386.5 464.4 386.5L463.5 386.5Q461.5 386.5 461.5 384.5Z" fill="#f3d566" stroke="#caa53a" stroke-width="0.8"/><rect x="464.5" y="347" width="4" height="27" fill="#e3bd4c" rx="1"/><use href="#tp5" x="497" y="360"/><path d="M531 332.4Q531 323.8 539.6 323.5L622.9 320.1Q637.5 319.5 637.5 334.1L637.5 362.8Q637.5 365.3 635 365.7L542.7 381.5Q531 383.5 531 371.6Z" fill="#bdc7d1"/><rect x="536.2" y="325.2" width="20" height="26.5" fill="#4d6a57" rx="5.5" stroke="#15181c" stroke-width="1.4"/><rect x="560" y="323.8" width="20" height="26.5" fill="#5d4568" rx="5.5" stroke="#15181c" stroke-width="1.4"/><rect x="583.8" y="322.5" width="20" height="26.5" fill="#4f5570" rx="5.5" stroke="#15181c" stroke-width="1.4"/><rect x="607.6" y="321.1" width="20" height="26.5" fill="#6a6448" rx="5.5" stroke="#15181c" stroke-width="1.4"/><rect x="591.5" y="348" width="1.4" height="6" fill="#20262e"/><rect x="614.5" y="346.5" width="1.4" height="7" fill="#20262e"/><path d="M573.2 356.1Q573 354 575.1 353.9L619.1 352.6Q621 352.5 621.1 354.4L621.4 358Q621.5 360 619.5 360.1L602.5 361Q602 361 601.7 361.4L600.8 362.8Q600 364 598.6 363.7L590.6 361.6Q590 361.5 589.4 361.7L581.8 364.2Q581 364.5 580.3 364.1L576.2 362.1Q576 362 575.8 361.9L574.2 360.5Q573.5 360 573.4 359.1Z" fill="#3d4755" stroke="#1c222c" stroke-width="0.8"/><rect x="604" y="355.2" width="12" height="1.8" fill="#7f98a6"/><path d="M641 338C641.8 333.2 639.8 330.3 643.5 323.5C647.2 316.7 638.8 319.9 652 317.6C665.2 315.3 661.4 316.8 683 316.5C704.6 316.2 691 315.4 716.7 316.8C742.4 318.2 734.6 318 760 320.6C785.4 323.2 770.8 321.2 793 324.6C815.2 328 808.8 327 826.7 330.8C844.6 334.6 837.4 331.4 846.7 336C856 340.6 852.2 337.7 854.5 344.5C856.8 351.3 856.3 349.4 853.5 356.5C850.7 363.6 848.5 362.7 846 365.8C839.6 364.9 844.4 366.2 826.7 363.2C809 360.2 815.2 360.5 793 356.8C770.8 353.1 785.4 355 760 352.2C734.6 349.4 742.4 349.8 716.7 348.4C691 347 704.6 347.6 683 348C661.4 348.4 665.3 349.9 652 349.6C638.7 349.3 646.7 350.9 643 347C639.3 343.1 641.7 341 641 338Z" fill="#54504b"/><use href="#sc5" transform="translate(647.8 335.8) rotate(-8)"/><use href="#sc5" transform="translate(677.5 332.5) rotate(-2)"/><use href="#sc5" transform="translate(707.2 331.8) rotate(1)"/><use href="#sc5" transform="translate(737.1 332.7) rotate(3.8)"/><use href="#sc5" transform="translate(766.9 335.7) rotate(8.7)"/><use href="#sc5" transform="translate(796.3 340.8) rotate(11.7)"/><use href="#sc5" transform="translate(825.5 347.5) rotate(15.9)"/><path d="M643 355.5C648.7 354.6 646.7 354.2 660 352.8C673.3 351.4 664.1 351.9 683 351.3C701.9 350.7 691 349.9 716.7 351C742.4 352.1 734.6 351.8 760 354.6C785.4 357.4 772.3 355.8 793 359.3C813.7 362.8 806.5 361.9 822 365.2C837.5 368.5 833.7 367.8 839.5 369.1C835.2 371.1 834.9 370.9 826.7 375C818.5 379.1 821.7 378.2 815 381.4C808.3 384.6 814 382.8 806.7 384.6C799.4 386.4 797.6 386 793 386.7L655 386.9L643 380Z" fill="#bdc7d1"/><circle cx="653" cy="374" r="14.2" fill="#000"/><circle cx="653" cy="374" r="11.6" fill="#4a5876"/><rect x="675" y="357.5" width="30" height="11.8" fill="#3d4755" rx="5.9" stroke="#1c222c" stroke-width="0.8"/><rect x="682" y="360.8" width="1.6" height="4.2" fill="#8fd0e0" transform="rotate(-12 683 363)"/><rect x="687.5" y="360.8" width="1.6" height="4.2" fill="#8fd0e0" transform="rotate(12 688 363)"/><circle cx="709" cy="363.3" r="10" fill="#86c0f0" stroke="#1c2a3c" stroke-width="1.3"/><circle cx="709" cy="363.3" r="5.8" fill="none" stroke="#3f6690" stroke-width="1"/><circle cx="709" cy="363.3" r="2.6" fill="#5f92c8" stroke="#2c4a70" stroke-width="0.8"/><path d="M709 353.5V373M699.2 363.3H718.8" fill="none" stroke="#3f6690" stroke-width="2"/><circle cx="709" cy="363.3" r="2.4" fill="#6fa2d8"/><path d="M675.1 371.9Q675.5 371 676.4 371.4L683.5 374.1Q684.5 374.5 684.1 375.4L681.4 382.1Q681 383 680.1 382.6L673 379.9Q672 379.5 672.4 378.6Z" fill="#63788c" stroke="#27313d" stroke-width="1"/><path d="M691.4 376.3Q691.5 375.5 692.3 375.5L699.5 375.1Q700.5 375 700.6 376L700.9 383Q701 384 700 384L691.7 384.4Q690.5 384.5 690.6 383.3Z" fill="#63788c" stroke="#27313d" stroke-width="1"/></g>
<g transform="translate(0 932) scale(1 -1)"><path d="M275.5 370.4Q275.5 356 289.8 354.4L356.8 347.2Q376.7 345 376.7 365.1L376.7 404.7Q376.7 413 368.6 414.6L299.3 427.8Q275.5 432.4 275.5 408.2Z" fill="#bdc7d1"/><line x1="312" y1="366" x2="336" y2="360" stroke="#2a2200" stroke-width="6"/><line x1="312" y1="366" x2="336" y2="360" stroke="#e6b93a" stroke-width="4.2" stroke-dasharray="1.6 1.2"/><line x1="318" y1="397.5" x2="335" y2="393.5" stroke="#2a2200" stroke-width="6"/><line x1="318" y1="397.5" x2="335" y2="393.5" stroke="#e6b93a" stroke-width="4.2" stroke-dasharray="1.6 1.2"/><use href="#wh5" x="298.8" y="384.4"/><use href="#wh5" x="353.6" y="375.2"/><path d="M310.3 405.5Q310 403.5 312 403.2L350.5 398.3Q352.5 398 352.8 400L353.2 403Q353.5 405 351.5 405.3L333.6 407.9Q333 408 332.8 408.6L332.5 409.5Q332 411 330.4 410.7L326.4 410.1Q326 410 325.6 410.1L320.3 411.4Q320 411.5 319.7 411.7L316.2 413.8Q315 414.5 313.9 413.5L311.6 411.5Q311 411 310.9 410.3Z" fill="#3d4755" stroke="#1c222c" stroke-width="0.8"/><path d="M380 343.3Q380 341.5 381.8 341.3L471.3 331.6Q472 331.5 472.7 331.6L475.5 331.8Q479 332 479 335.5L479 392.2Q479 393.9 477.3 394.1L382.3 410.8Q380 411.2 380 408.8Z" fill="#bdc7d1"/><path d="M383.8 341L418 338L419.5 336.6L423.5 336.2L423.5 381L383.8 381Z" fill="#b3beca"/><path d="M385.8 381V343.2L419 339.4" fill="none" stroke="#2c3642" stroke-width="4.6"/><path d="M402.5 379.2C413 377.5 421.5 370 423.3 357C424 348.5 415.6 348 414.4 354C414 357.5 415.6 360.4 418 361.4" fill="none" stroke="#20262e" stroke-width="3.2" stroke-linecap="round"/><path d="M382.3 398.7Q382 396.5 384.2 396.4L395.4 396Q396 396 396.5 395.7L399.7 393.4Q401 392.5 402.2 393.5L404.7 395.7Q405 396 405.5 395.9L424 393.3Q426 393 426.3 395L426.8 399.2Q427 401 425.2 401.4L387.1 408.9Q384 409.5 383.5 406.4Z" fill="#3d4755" stroke="#1c222c" stroke-width="0.8"/><rect x="410" y="397" width="12" height="2" fill="#6f8f99" transform="rotate(-8 416 398)"/><path d="M461.5 337.5Q461.5 335.5 463.5 335.5L464.4 335.5Q467 335.5 468.8 337.4L476.2 345.1Q477 346 477 347.2L477 374.8Q477 376 476.2 376.9L468.8 384.6Q467 386.5 464.4 386.5L463.5 386.5Q461.5 386.5 461.5 384.5Z" fill="#f3d566" stroke="#caa53a" stroke-width="0.8"/><rect x="464.5" y="347" width="4" height="27" fill="#e3bd4c" rx="1"/><use href="#tp5" x="497" y="360"/><path d="M531 332.4Q531 323.8 539.6 323.5L622.9 320.1Q637.5 319.5 637.5 334.1L637.5 362.8Q637.5 365.3 635 365.7L542.7 381.5Q531 383.5 531 371.6Z" fill="#bdc7d1"/><rect x="536.2" y="325.2" width="20" height="26.5" fill="#6a5148" rx="5.5" stroke="#15181c" stroke-width="1.4"/><rect x="560" y="323.8" width="20" height="26.5" fill="#5d6a48" rx="5.5" stroke="#15181c" stroke-width="1.4"/><rect x="583.8" y="322.5" width="20" height="26.5" fill="#6a6448" rx="5.5" stroke="#15181c" stroke-width="1.4"/><rect x="607.6" y="321.1" width="20" height="26.5" fill="#6a4860" rx="5.5" stroke="#15181c" stroke-width="1.4"/><rect x="591.5" y="348" width="1.4" height="6" fill="#20262e"/><rect x="614.5" y="346.5" width="1.4" height="7" fill="#20262e"/><path d="M573.2 356.1Q573 354 575.1 353.9L619.1 352.6Q621 352.5 621.1 354.4L621.4 358Q621.5 360 619.5 360.1L602.5 361Q602 361 601.7 361.4L600.8 362.8Q600 364 598.6 363.7L590.6 361.6Q590 361.5 589.4 361.7L581.8 364.2Q581 364.5 580.3 364.1L576.2 362.1Q576 362 575.8 361.9L574.2 360.5Q573.5 360 573.4 359.1Z" fill="#3d4755" stroke="#1c222c" stroke-width="0.8"/><rect x="604" y="355.2" width="12" height="1.8" fill="#7f98a6"/><path d="M641 338C641.8 333.2 639.8 330.3 643.5 323.5C647.2 316.7 638.8 319.9 652 317.6C665.2 315.3 661.4 316.8 683 316.5C704.6 316.2 691 315.4 716.7 316.8C742.4 318.2 734.6 318 760 320.6C785.4 323.2 770.8 321.2 793 324.6C815.2 328 808.8 327 826.7 330.8C844.6 334.6 837.4 331.4 846.7 336C856 340.6 852.2 337.7 854.5 344.5C856.8 351.3 856.3 349.4 853.5 356.5C850.7 363.6 848.5 362.7 846 365.8C839.6 364.9 844.4 366.2 826.7 363.2C809 360.2 815.2 360.5 793 356.8C770.8 353.1 785.4 355 760 352.2C734.6 349.4 742.4 349.8 716.7 348.4C691 347 704.6 347.6 683 348C661.4 348.4 665.3 349.9 652 349.6C638.7 349.3 646.7 350.9 643 347C639.3 343.1 641.7 341 641 338Z" fill="#54504b"/><use href="#sc5" transform="translate(647.8 335.8) rotate(-8)"/><use href="#sc5" transform="translate(677.5 332.5) rotate(-2)"/><use href="#sc5" transform="translate(707.2 331.8) rotate(1)"/><use href="#sc5" transform="translate(737.1 332.7) rotate(3.8)"/><use href="#sc5" transform="translate(766.9 335.7) rotate(8.7)"/><use href="#sc5" transform="translate(796.3 340.8) rotate(11.7)"/><use href="#sc5" transform="translate(825.5 347.5) rotate(15.9)"/><path d="M643 355.5C648.7 354.6 646.7 354.2 660 352.8C673.3 351.4 664.1 351.9 683 351.3C701.9 350.7 691 349.9 716.7 351C742.4 352.1 734.6 351.8 760 354.6C785.4 357.4 772.3 355.8 793 359.3C813.7 362.8 806.5 361.9 822 365.2C837.5 368.5 833.7 367.8 839.5 369.1C835.2 371.1 834.9 370.9 826.7 375C818.5 379.1 821.7 378.2 815 381.4C808.3 384.6 814 382.8 806.7 384.6C799.4 386.4 797.6 386 793 386.7L655 386.9L643 380Z" fill="#bdc7d1"/><circle cx="653" cy="374" r="14.2" fill="#000"/><circle cx="653" cy="374" r="11.6" fill="#4a5876"/><rect x="675" y="357.5" width="30" height="11.8" fill="#3d4755" rx="5.9" stroke="#1c222c" stroke-width="0.8"/><rect x="682" y="360.8" width="1.6" height="4.2" fill="#8fd0e0" transform="rotate(-12 683 363)"/><rect x="687.5" y="360.8" width="1.6" height="4.2" fill="#8fd0e0" transform="rotate(12 688 363)"/><circle cx="709" cy="363.3" r="10" fill="#86c0f0" stroke="#1c2a3c" stroke-width="1.3"/><circle cx="709" cy="363.3" r="5.8" fill="none" stroke="#3f6690" stroke-width="1"/><circle cx="709" cy="363.3" r="2.6" fill="#5f92c8" stroke="#2c4a70" stroke-width="0.8"/><path d="M709 353.5V373M699.2 363.3H718.8" fill="none" stroke="#3f6690" stroke-width="2"/><circle cx="709" cy="363.3" r="2.4" fill="#6fa2d8"/><path d="M675.1 371.9Q675.5 371 676.4 371.4L683.5 374.1Q684.5 374.5 684.1 375.4L681.4 382.1Q681 383 680.1 382.6L673 379.9Q672 379.5 672.4 378.6Z" fill="#63788c" stroke="#27313d" stroke-width="1"/><path d="M691.4 376.3Q691.5 375.5 692.3 375.5L699.5 375.1Q700.5 375 700.6 376L700.9 383Q701 384 700 384L691.7 384.4Q690.5 384.5 690.6 383.3Z" fill="#63788c" stroke="#27313d" stroke-width="1"/></g>
<path d="M646.7 415.3Q646.7 393.3 668.7 393.3L785.5 393.3Q794.5 393.3 794.5 402.3L794.5 528.7Q794.5 537.7 785.5 537.7L668.7 537.7Q646.7 537.7 646.7 515.7Z" fill="#bdc7d1"/>
<rect x="667" y="391.3" width="39" height="5.5" fill="#55606e" rx="2.5" stroke="#222" stroke-width="0.6"/>
<rect x="708" y="391.3" width="37.5" height="5.5" fill="#55606e" rx="2.5" stroke="#222" stroke-width="0.6"/>
<rect x="667" y="534.2" width="39" height="5.5" fill="#55606e" rx="2.5" stroke="#222" stroke-width="0.6"/>
<rect x="708" y="534.2" width="37.5" height="5.5" fill="#55606e" rx="2.5" stroke="#222" stroke-width="0.6"/>
<g transform="translate(718.9 466.6) rotate(45)"><path d="M49.6 -5.5Q54.5 0 49.6 5.5L47 5.5V-5.5Z" fill="#56626e" stroke="#1e242c" stroke-width="0.9"/><rect x="42.4" y="-19" width="7.6" height="38" fill="#5b6773" rx="3" stroke="#1e242c" stroke-width="0.9"/></g>
<g transform="translate(718.9 466.6) rotate(135)"><path d="M49.6 -5.5Q54.5 0 49.6 5.5L47 5.5V-5.5Z" fill="#56626e" stroke="#1e242c" stroke-width="0.9"/><rect x="42.4" y="-19" width="7.6" height="38" fill="#5b6773" rx="3" stroke="#1e242c" stroke-width="0.9"/></g>
<g transform="translate(718.9 466.6) rotate(225)"><path d="M49.6 -5.5Q54.5 0 49.6 5.5L47 5.5V-5.5Z" fill="#56626e" stroke="#1e242c" stroke-width="0.9"/><rect x="42.4" y="-19" width="7.6" height="38" fill="#5b6773" rx="3" stroke="#1e242c" stroke-width="0.9"/></g>
<g transform="translate(718.9 466.6) rotate(315)"><path d="M49.6 -5.5Q54.5 0 49.6 5.5L47 5.5V-5.5Z" fill="#56626e" stroke="#1e242c" stroke-width="0.9"/><rect x="42.4" y="-19" width="7.6" height="38" fill="#5b6773" rx="3" stroke="#1e242c" stroke-width="0.9"/></g>
<path d="M783.1 403.1Q783 401 785.1 401L788 401Q790 401 790 403L790.5 441.1Q790.5 443 788.6 443.1L785.7 443.4Q784 443.5 783.6 441.9L782.1 436.6Q782 436 782.2 435.4L784.3 428.6Q784.5 428 784.3 427.4L782.7 421.8Q782.5 421 781.7 420.6L780.5 420Q779.5 419.5 779.7 418.4L779.9 416.7Q780 416 780.6 415.6L782.4 414.6Q783.5 414 783.5 412.8Z" fill="#56626f" stroke="#20262e" stroke-width="0.8"/>
<rect x="791" y="409.6" width="5" height="0.8" fill="#8c96a2"/>
<rect x="791" y="412.8" width="5" height="0.8" fill="#8c96a2"/>
<rect x="791" y="416" width="5" height="0.8" fill="#8c96a2"/>
<rect x="791" y="419.2" width="5" height="0.8" fill="#8c96a2"/>
<path d="M783.1 528.9Q783 531 785.1 531L788 531Q790 531 790 529L790.5 490.9Q790.5 489 788.6 488.9L785.7 488.6Q784 488.5 783.6 490.1L782.1 495.4Q782 496 782.2 496.6L784.3 503.4Q784.5 504 784.3 504.6L782.7 510.2Q782.5 511 781.7 511.4L780.5 512Q779.5 512.5 779.7 513.6L779.9 515.3Q780 516 780.6 516.4L782.4 517.4Q783.5 518 783.5 519.2Z" fill="#56626f" stroke="#20262e" stroke-width="0.8"/>
<rect x="791" y="521.6" width="5" height="0.8" fill="#8c96a2"/>
<rect x="791" y="518.4" width="5" height="0.8" fill="#8c96a2"/>
<rect x="791" y="515.2" width="5" height="0.8" fill="#8c96a2"/>
<rect x="791" y="512" width="5" height="0.8" fill="#8c96a2"/>
<circle cx="718.9" cy="466.6" r="41" fill="#2f3b7a" stroke="#080a14" stroke-width="1.8"/>
<circle cx="718.9" cy="466.6" r="29.4" fill="#06080c"/>
<circle cx="718.9" cy="466.6" r="23.8" fill="#2b5f74"/>
<clipPath id="cone5"><path d="M853 396.5C849.7 398.7 849.7 397.5 843 403C836.3 408.5 839.7 405.7 833 413C826.3 420.3 829.7 416.7 823 425C816.3 433.3 818.6 429.7 813 438C807.4 446.3 810 442.7 806.3 450C802.6 457.3 803.8 454.7 802 460C800.2 465.3 801 462 801 466C801 470 800.2 466.7 802 472C803.8 477.3 802.6 474.7 806.3 482C810 489.3 807.4 485.7 813 494C818.6 502.3 816.3 498.7 823 507C829.7 515.3 826.3 511.7 833 519C839.7 526.3 836.3 523.5 843 529C849.7 534.5 849.7 533.3 853 535.5Z"/></clipPath>
<g clip-path="url(#cone5)"><rect x="795" y="390" width="65" height="152" fill="#626262"/><rect x="843" y="390" width="20" height="152" fill="#515151"/><path d="M802 455.5L833.5 438V493L802 475.5Z" fill="#7c7c7c"/><path d="M803.5 459L833.5 443.5V487.5L803.5 472Z" fill="#2d2d2d" stroke="#161616" stroke-width="0.8"/><rect x="833.5" y="441.5" width="13.8" height="48" fill="#2a2a2a" stroke="#161616" stroke-width="0.8"/><rect x="840" y="447" width="7.3" height="37" fill="#353535"/><path d="M830.8 415L834.4 412.5L836 441.5L832.4 441.5Z" fill="#dcdcdc" stroke="#222" stroke-width="0.5"/><path d="M834.4 412.5L838 408L840 444L836 441.5Z" fill="#2c2c2c"/><path d="M838 406.5L841.4 404L843.6 445L840 445Z" fill="#dcdcdc" stroke="#222" stroke-width="0.5"/><path d="M841.4 404L846 400L847.3 441.5L843.6 445Z" fill="#3a3a3a"/><path d="M803.5 459L833.5 443.5" fill="none" stroke="#111" stroke-width="0.8"/><path d="M830.8 517L834.4 519.5L836 490.5L832.4 490.5Z" fill="#dcdcdc" stroke="#222" stroke-width="0.5"/><path d="M834.4 519.5L838 524L840 488L836 490.5Z" fill="#2c2c2c"/><path d="M838 525.5L841.4 528L843.6 487L840 487Z" fill="#dcdcdc" stroke="#222" stroke-width="0.5"/><path d="M841.4 528L846 532L847.3 490.5L843.6 487Z" fill="#3a3a3a"/><path d="M803.5 473L833.5 488.5" fill="none" stroke="#111" stroke-width="0.8"/></g>
<path d="M849 466L849.3 433L851 410L853 396.2L864 386.9L873.3 395.8L880 420L884.8 447L886.2 466L884.8 485L880 512L873.3 536.2L864 545.1L853 535.8L851 522L849.3 499Z" fill="#6fc0f4" stroke="#0d1a26" stroke-width="1.2" stroke-linejoin="round"/>
<path d="M849 466H886M861 388.5Q858 430 862.5 455M861 542.5Q858 501 862.5 476M869 392Q869 430 866 452M869 539Q869 501 866 479M851.5 408L862 452M851.5 523L862 479M879 414L867.5 452M879 517L867.5 479M849.5 440L860 458M849.5 491L860 473M885 447L869 458M885 484L869 473M862 452Q864.5 449 867.5 452L869.5 458Q870.5 466 869.5 473L867.5 479Q864.5 482 862 479L860 473Q859 466 860 458Z" fill="none" stroke="#1d5f92" stroke-width="0.9"/>
<rect x="868.5" y="384.6" width="1.1" height="2.2" fill="#000" transform="rotate(40 868.5 384.6)"/>
<rect x="871.1" y="382.3" width="1.1" height="2.2" fill="#000" transform="rotate(40 871.1 382.3)"/>
<rect x="873.7" y="380" width="1.1" height="2.2" fill="#000" transform="rotate(40 873.7 380)"/>
<rect x="876.3" y="377.7" width="1.1" height="2.2" fill="#000" transform="rotate(40 876.3 377.7)"/>
<rect x="878.9" y="375.4" width="1.1" height="2.2" fill="#000" transform="rotate(40 878.9 375.4)"/>
<rect x="868.5" y="545.2" width="1.1" height="2.2" fill="#000" transform="rotate(-40 868.5 547.4)"/>
<rect x="871.1" y="547.5" width="1.1" height="2.2" fill="#000" transform="rotate(-40 871.1 549.7)"/>
<rect x="873.7" y="549.8" width="1.1" height="2.2" fill="#000" transform="rotate(-40 873.7 552)"/>
<rect x="876.3" y="552.1" width="1.1" height="2.2" fill="#000" transform="rotate(-40 876.3 554.3)"/>
<rect x="878.9" y="554.4" width="1.1" height="2.2" fill="#000" transform="rotate(-40 878.9 556.6)"/>
<line x1="425" y1="431.6" x2="616" y2="398" stroke="#000" stroke-width="2.6" stroke-dasharray="7 1.6 3 1.6 11 2 2 1.6"/>
<line x1="425" y1="500.4" x2="616" y2="534" stroke="#000" stroke-width="2.6" stroke-dasharray="7 1.6 3 1.6 11 2 2 1.6"/>
<rect x="410.3" y="431.5" width="3.6" height="68" fill="#000"/>
<rect x="616.5" y="392" width="5" height="147" fill="#000"/>
<path d="M429.8 446.3Q495 429 575.8 418.4V513.6Q495 503 429.8 485.7Z" fill="#fff" stroke="#000" stroke-width="1.5"/>
<g transform="translate(0 0) scale(1 1)"><line x1="425.5" y1="362" x2="483.5" y2="420" stroke="#3c3c3c" stroke-opacity="0.6" stroke-width="11.5" stroke-dasharray="2.2 2.8"/><line x1="429.6" y1="357" x2="488.6" y2="416" stroke="#3c3c3c" stroke-opacity="0.62" stroke-width="2.2"/><line x1="420.4" y1="366.2" x2="479.4" y2="425.2" stroke="#3c3c3c" stroke-opacity="0.62" stroke-width="2.2"/><clipPath id="lad1"><path d="M470 420.7 L530 410.2 V480 H470Z"/></clipPath><g clip-path="url(#lad1)"><line x1="474" y1="410.5" x2="509" y2="445.5" stroke="#151000" stroke-width="15"/><line x1="474" y1="410.5" x2="509" y2="445.5" stroke="#f2d447" stroke-width="12"/><line x1="474" y1="410.5" x2="496" y2="432.5" stroke="#151000" stroke-width="12" stroke-dasharray="1.8 3.4"/><path d="M491.5 440L503.5 428M495.5 444L507.5 432M491.5 428L507.5 444" stroke="#151000" stroke-width="1.3" fill="none"/></g></g>
<g transform="translate(0 932) scale(1 -1)"><line x1="425.5" y1="362" x2="483.5" y2="420" stroke="#3c3c3c" stroke-opacity="0.6" stroke-width="11.5" stroke-dasharray="2.2 2.8"/><line x1="429.6" y1="357" x2="488.6" y2="416" stroke="#3c3c3c" stroke-opacity="0.62" stroke-width="2.2"/><line x1="420.4" y1="366.2" x2="479.4" y2="425.2" stroke="#3c3c3c" stroke-opacity="0.62" stroke-width="2.2"/><clipPath id="lad-1"><path d="M470 420.7 L530 410.2 V480 H470Z"/></clipPath><g clip-path="url(#lad-1)"><line x1="474" y1="410.5" x2="509" y2="445.5" stroke="#151000" stroke-width="15"/><line x1="474" y1="410.5" x2="509" y2="445.5" stroke="#f2d447" stroke-width="12"/><line x1="474" y1="410.5" x2="496" y2="432.5" stroke="#151000" stroke-width="12" stroke-dasharray="1.8 3.4"/><path d="M491.5 440L503.5 428M495.5 444L507.5 432M491.5 428L507.5 444" stroke="#151000" stroke-width="1.3" fill="none"/></g></g>
<circle cx="511.8" cy="465.7" r="29" fill="#000"/>
<circle cx="511.8" cy="465.7" r="26.9" fill="#45c3ec"/>
<circle cx="511.8" cy="465.7" r="22.3" fill="#050505"/>
<circle cx="511.8" cy="465.7" r="9.5" fill="#62b0f2"/>
<path d="M578.5 421.5Q578.5 419.5 580.5 419.5L583.8 419.5Q585.5 419.5 585.7 421.2L585.8 421.9Q586 423 587.1 422.7L588.4 422.3Q589.5 422 589.6 423.2L589.9 425.3Q590 426 589.4 426.3L587 427.7Q586.5 428 586.5 428.6L587 437.6Q587 438 587.3 438.3L589.5 440.5Q590 441 589.7 441.6L588.8 443.8Q588.5 444.5 587.7 444.3L587.2 444.2Q586 444 586 445.2L586 451.5Q586 452 586.4 452.3L588.4 453.6Q589 454 588.8 454.7L588.2 457.2Q588 458 587.2 458L586.5 458Q585.5 458 585.5 459L585.5 463.3Q585.5 464.3 584.5 464.3L579.5 464.3Q578.5 464.3 578.5 463.3Z" fill="#343a42" stroke="#15181c" stroke-width="0.8"/>
<path d="M611.7 409.5Q612 408.5 613.1 408.5L615.5 408.5Q616.5 408.5 616.5 409.5L616.5 444Q616.5 445 615.5 445L613.9 445Q612.5 445 612.4 443.6L612 436.3Q612 436 611.8 435.7L609.8 433.4Q609.5 433 609.6 432.5L610.4 429.8Q610.5 429.5 610.8 429.3L612.1 428.3Q612.5 428 612.5 427.5L612 420.3Q612 420 611.9 419.8L610.2 417.3Q610 417 610 416.6L610.5 413.1Q610.5 413 610.5 412.9Z" fill="#343a42" stroke="#15181c" stroke-width="0.8"/>
<path d="M589 399Q594 407.5 599 399L597.5 398Q594 404 590.5 398Z" fill="#3a424c" stroke="#15181c" stroke-width="0.8"/>
<path d="M578.5 510.5Q578.5 512.5 580.5 512.5L583.8 512.5Q585.5 512.5 585.7 510.8L585.8 510.1Q586 509 587.1 509.3L588.4 509.7Q589.5 510 589.6 508.8L589.9 506.7Q590 506 589.4 505.7L587 504.3Q586.5 504 586.5 503.4L587 494.4Q587 494 587.3 493.7L589.5 491.5Q590 491 589.7 490.4L588.8 488.2Q588.5 487.5 587.7 487.7L587.2 487.8Q586 488 586 486.8L586 480.5Q586 480 586.4 479.7L588.4 478.4Q589 478 588.8 477.3L588.2 474.8Q588 474 587.2 474L586.5 474Q585.5 474 585.5 473L585.5 468.7Q585.5 467.7 584.5 467.7L579.5 467.7Q578.5 467.7 578.5 468.7Z" fill="#343a42" stroke="#15181c" stroke-width="0.8"/>
<path d="M611.7 522.5Q612 523.5 613.1 523.5L615.5 523.5Q616.5 523.5 616.5 522.5L616.5 488Q616.5 487 615.5 487L613.9 487Q612.5 487 612.4 488.4L612 495.7Q612 496 611.8 496.3L609.8 498.6Q609.5 499 609.6 499.5L610.4 502.2Q610.5 502.5 610.8 502.7L612.1 503.7Q612.5 504 612.5 504.5L612 511.7Q612 512 611.9 512.2L610.2 514.7Q610 515 610 515.4L610.5 518.9Q610.5 519 610.5 519.1Z" fill="#343a42" stroke="#15181c" stroke-width="0.8"/>
<path d="M589 533Q594 524.5 599 533L597.5 534Q594 528 590.5 534Z" fill="#3a424c" stroke="#15181c" stroke-width="0.8"/>
<rect x="577.5" y="464.6" width="3" height="1.2" fill="#ddd"/>
<circle cx="308.7" cy="460.3" r="7.7" fill="#78de7c" stroke="#173a1c" stroke-width="1.3"/>
<circle cx="308.7" cy="460.3" r="4.4" fill="#5d6a66" stroke="#173a1c" stroke-width="1.1"/>
<path d="M308.7 452.6V468M301 460.3H316.4" fill="none" stroke="#173a1c" stroke-width="1.5"/>
<circle cx="308.7" cy="460.3" r="2.6" fill="#6f7878"/>
<line x1="318.5" y1="476" x2="380" y2="487" stroke="#191300" stroke-width="5.4" stroke-linecap="round"/>
<line x1="318.5" y1="476" x2="380" y2="487" stroke="#f4d23c" stroke-width="3.4" stroke-linecap="round"/>
<line x1="321" y1="476.45" x2="378" y2="486.64" stroke="#191300" stroke-width="3.6" stroke-dasharray="0.9 1.9"/>
<path d="M339.3 446.8Q339 445.7 340.1 445.5L384.1 438.7Q386 438.4 385.8 440.3L385.7 442.3Q385.6 443.4 384.5 443.6L368.3 446.7Q367.8 446.8 367.6 447.2L366.4 449.5Q366 450.4 365 450.6L347.8 453.9Q347.2 454 346.6 453.8L343.5 453Q342.8 452.8 342.4 452.2L340.1 449Q340 448.9 340 448.7Z" fill="#3d4755" stroke="#1c222c" stroke-width="0.8"/>
<rect x="394.6" y="437.9" width="14.8" height="13.1" fill="#4b644c" rx="4.2" stroke="#14181a" stroke-width="1.3"/>
<rect x="394.6" y="453.2" width="14.8" height="12.8" fill="#4b644c" rx="4.2" stroke="#14181a" stroke-width="1.3"/>
<rect x="394.6" y="468.2" width="14.8" height="12.4" fill="#4e5c68" rx="4.2" stroke="#14181a" stroke-width="1.3"/>
<rect x="394.6" y="481.8" width="14.8" height="11.6" fill="#4e5c68" rx="4.2" stroke="#14181a" stroke-width="1.3"/>
<rect x="390" y="445" width="2.6" height="23.4" fill="#8fd0e2" stroke="#1c2c30" stroke-width="0.6"/>
<rect x="390" y="469.2" width="2.6" height="18.6" fill="#83d48e" stroke="#1c2c30" stroke-width="0.6"/>
<path d="M414 461.4Q414 461 414.4 460.9L417.9 460.1Q418.5 460 418.9 460.5L420.8 462.7Q421 463 421 463.4L421 467.6Q421 468 420.8 468.3L418.9 470.5Q418.5 471 417.9 470.9L414.4 470.1Q414 470 414 469.6Z" fill="#3a3f46" stroke="#111" stroke-width="0.8"/>
<circle cx="417.3" cy="466" r="1.6" fill="#6a727c"/>
<g filter="url(#ds)"><circle cx="378.5" cy="461.5" r="9.2" fill="#f6ad1e"/></g><text x="378.5" y="468" font-size="18.4" text-anchor="middle" style="fill:#fff;font-style:normal" textLength="9.2" lengthAdjust="spacingAndGlyphs">1</text>
<g filter="url(#ds)"><circle cx="553.3" cy="367.5" r="9.2" fill="#f6ad1e"/></g><text x="553.3" y="374" font-size="18.4" text-anchor="middle" style="fill:#fff;font-style:normal" textLength="9.2" lengthAdjust="spacingAndGlyphs">2</text>
<g filter="url(#ds)"><circle cx="450.8" cy="348.3" r="9.2" fill="#f6ad1e"/></g><text x="450.8" y="354.8" font-size="18.4" text-anchor="middle" style="fill:#fff;font-style:normal" textLength="9.2" lengthAdjust="spacingAndGlyphs">3</text>
<g filter="url(#ds)"><circle cx="763.5" cy="420.5" r="9.2" fill="#5b97e2"/></g><text x="763.5" y="427" font-size="18.4" text-anchor="middle" style="fill:#fff;font-style:normal" textLength="9.2" lengthAdjust="spacingAndGlyphs">4</text>
<g filter="url(#ds)"><circle cx="733.5" cy="567.5" r="9.2" fill="#5b97e2"/></g><text x="733.5" y="574" font-size="18.4" text-anchor="middle" style="fill:#fff;font-style:normal" textLength="9.2" lengthAdjust="spacingAndGlyphs">5</text>
<g filter="url(#ds)"><circle cx="878.5" cy="443.5" r="9.2" fill="#5b97e2"/></g><text x="878.5" y="450" font-size="18.4" text-anchor="middle" style="fill:#fff;font-style:normal" textLength="9.2" lengthAdjust="spacingAndGlyphs">6</text>
<g filter="url(#ds)"><circle cx="344" cy="389.8" r="9.2" fill="#e8365a"/></g><text x="344" y="396.3" font-size="18.4" text-anchor="middle" style="fill:#fff;font-style:normal" textLength="9.2" lengthAdjust="spacingAndGlyphs">7</text>
<g filter="url(#ds)"><circle cx="257" cy="470.3" r="9.2" fill="#f6ad1e"/></g><text x="257" y="476.8" font-size="18.4" text-anchor="middle" style="fill:#fff;font-style:normal" textLength="9.2" lengthAdjust="spacingAndGlyphs">8</text>
<g filter="url(#ds)"><circle cx="598.8" cy="466.5" r="9.2" fill="#f6ad1e"/></g><text x="598.8" y="473" font-size="18.4" text-anchor="middle" style="fill:#fff;font-style:normal" textLength="9.2" lengthAdjust="spacingAndGlyphs">9</text>
<g filter="url(#ds)"><circle cx="832.3" cy="595.3" r="9.2" fill="#5b97e2"/></g><text x="832.3" y="599.8" font-size="12.6" text-anchor="middle" style="fill:#fff;font-style:normal" textLength="13" lengthAdjust="spacingAndGlyphs">10</text>
</g>
<g id="deck6">
<path d="M1054 467.3C1054.1 460.9 1053.8 459.8 1054.3 448C1054.8 436.2 1054.1 442.3 1055.5 432C1056.9 421.7 1056 425.7 1058.5 417C1061 408.3 1059.2 413 1063 406C1066.8 399 1064.3 402.5 1070 396C1075.7 389.5 1073.3 391.9 1080 386.5C1086.7 381.1 1083.3 383.6 1090 379.8C1096.7 376 1091.7 378 1100 375C1108.3 372 1101.7 373.7 1115 370.8C1128.3 367.9 1126.1 368.7 1140 366.2C1153.9 363.7 1140 366.2 1156.7 363.3C1173.4 360.4 1168.9 361.3 1190 357.5C1211.1 353.7 1203.3 355.1 1220 351.8C1236.7 348.5 1219 351.9 1240 347.7C1261 343.5 1249.7 345.3 1283 339.3C1316.3 333.3 1307.7 334.8 1340 329.6C1372.3 324.4 1353.3 327.7 1380 323.6C1406.7 319.5 1395.7 321.2 1420 317.4C1444.3 313.6 1429.7 315.2 1453 312.2C1476.3 309.2 1467.7 310.3 1490 308.4C1512.3 306.5 1500 307.3 1520 306.4C1540 305.5 1530 305.8 1550 305.8C1570 305.8 1559 305.6 1580 306.5C1601 307.4 1589.7 306.6 1613 308.4C1636.3 310.2 1624.3 309.2 1650 312C1675.7 314.8 1670 314.3 1690 316.8C1710 319.3 1687.8 316.1 1710 319.6C1732.2 323.1 1724.5 321.7 1756.7 327.2C1788.9 332.7 1784.6 331.6 1806.7 336C1828.8 340.4 1815.2 337.4 1823 340.3C1830.8 343.2 1826.6 341.1 1830 344.8C1833.4 348.5 1833 346.6 1833.3 351.5C1833.6 356.4 1834.1 354.5 1831 359.5C1827.9 364.5 1828.8 361.2 1824 366.5C1819.2 371.8 1820.7 369 1816.7 375.5C1812.7 382 1813.6 382.5 1812 386L1827.6 396L1835 425L1839.6 453L1840.5 467.3L1839.6 481.6L1835 509.6L1827.6 538.6L1812 548.6C1813.6 552.1 1812.7 552.6 1816.7 559.1C1820.7 565.6 1819.2 562.8 1824 568.1C1828.8 573.4 1827.9 570.1 1831 575.1C1834.1 580.1 1833.6 578.2 1833.3 583.1C1833 588 1833.4 586.1 1830 589.8C1826.6 593.5 1830.8 591.4 1823 594.3C1815.2 597.2 1828.8 594.2 1806.7 598.6C1784.6 603 1788.9 601.9 1756.7 607.4C1724.5 612.9 1732.2 611.5 1710 615C1687.8 618.5 1710 615.3 1690 617.8C1670 620.3 1675.7 619.8 1650 622.6C1624.3 625.4 1636.3 624.4 1613 626.2C1589.7 628 1601 627.2 1580 628.1C1559 629 1570 628.8 1550 628.8C1530 628.8 1540 629.1 1520 628.2C1500 627.3 1512.3 628.1 1490 626.2C1467.7 624.3 1476.3 625.4 1453 622.4C1429.7 619.4 1444.3 621 1420 617.2C1395.7 613.4 1406.7 615.1 1380 611C1353.3 606.9 1372.3 610.2 1340 605C1307.7 599.8 1316.3 601.3 1283 595.3C1249.7 589.3 1261 591.1 1240 586.9C1219 582.7 1236.7 586.1 1220 582.8C1203.3 579.5 1211.1 580.9 1190 577.1C1168.9 573.3 1173.4 574.2 1156.7 571.3C1140 568.4 1153.9 570.9 1140 568.4C1126.1 565.9 1128.3 566.7 1115 563.8C1101.7 560.9 1108.3 562.6 1100 559.6C1091.7 556.6 1096.7 558.6 1090 554.8C1083.3 551 1086.7 553.5 1080 548.1C1073.3 542.7 1075.7 545.1 1070 538.6C1064.3 532.1 1066.8 535.6 1063 528.6C1059.2 521.6 1061 526.3 1058.5 517.6C1056 508.9 1056.9 512.9 1055.5 502.6C1054.1 492.3 1054.8 498.4 1054.3 486.6C1053.8 474.8 1054.1 473.7 1054 467.3Z" fill="#000"/>
<path d="M1211.7 467.3L1211.7 430Q1211.7 425.5 1214.5 424.8C1234.7 419.7 1236.2 419.5 1275 409.4C1313.8 399.3 1293.5 404 1331 394.4C1368.5 384.8 1349.9 388.3 1387.5 380.5C1425.1 372.7 1406.3 376.1 1443.8 371C1481.3 365.9 1468.8 368.8 1500 365.3C1531.2 361.8 1522.2 364.3 1537.5 360.4C1552.8 356.5 1539.8 357 1546 353.5C1552.2 350 1552.7 351.2 1556 350L1556 584.6C1552.7 583.4 1552.2 584.6 1546 581.1C1539.8 577.6 1552.8 578.1 1537.5 574.2C1522.2 570.3 1531.2 572.8 1500 569.3C1468.8 565.8 1481.3 568.7 1443.8 563.6C1406.3 558.5 1425.1 561.9 1387.5 554.1C1349.9 546.3 1368.5 549.8 1331 540.2C1293.5 530.6 1313.8 535.3 1275 525.2C1236.2 515.1 1234.7 514.9 1214.5 509.8Q1211.7 509.1 1211.7 504.6 Z" fill="#80838b"/>
<path d="M1538 368 C1548 356 1560 352.5 1572 358.5 S1584 367.3 1600 367.8 L1698.3 370.2" fill="none" stroke="#80838b" stroke-width="17.5"/>
<circle cx="1560.8" cy="376.7" r="14.6" fill="#000"/>
<path d="M1556 380L1578 382L1556 412Z" fill="#000"/>
<circle cx="1560.8" cy="376.7" r="11.7" fill="#4a5876"/>
<path d="M1538 566.6 C1548 578.6 1560 582.1 1572 576.1 S1584 567.3 1600 566.8 L1698.3 564.4" fill="none" stroke="#80838b" stroke-width="17.5"/>
<circle cx="1560.8" cy="557.9" r="14.6" fill="#000"/>
<path d="M1556 554.6L1578 552.6L1556 522.6Z" fill="#000"/>
<circle cx="1560.8" cy="557.9" r="11.7" fill="#4a5876"/>
<path d="M1231.8 467.3L1231.8 446Q1231.8 442.5 1233.5 441.8C1247.3 437.9 1242.5 438.9 1275 430C1307.5 421.1 1293.5 424.3 1331 415C1368.5 405.7 1349.9 409.7 1387.5 402C1425.1 394.3 1406.3 397.4 1443.8 391.8C1481.3 386.2 1474.3 387.9 1500 385.2C1525.7 382.5 1514 384.3 1521 383.8Q1531 384 1534 396 L1536.5 420 L1536.5 514.6 L1534 538.6 Q1531 550.6 1521 550.8C1514 550.3 1525.7 552.1 1500 549.4C1474.3 546.7 1481.3 548.4 1443.8 542.8C1406.3 537.2 1425.1 540.3 1387.5 532.6C1349.9 524.9 1368.5 528.9 1331 519.6C1293.5 510.3 1307.5 513.5 1275 504.6C1242.5 495.7 1247.3 496.7 1233.5 492.8Q1231.8 492.1 1231.8 488.6 Z" fill="#bdc7d1" stroke="#000" stroke-width="3.4" stroke-linejoin="round"/>
<path d="M1114 381.5L1137.5 377.5L1137.5 557.1L1114 553.1Z" fill="#5b5b5e"/>
<rect x="1064" y="460.6" width="50.5" height="14.6" fill="#5b5b5e"/>
<use href="#cap6" x="1075.5" y="467.9"/>
<use href="#cap6" x="1126.2" y="393.3"/>
<use href="#cap6" x="1126.2" y="405.8"/>
<use href="#cap6" x="1126.2" y="418.2"/>
<use href="#cap6" x="1126.2" y="430.7"/>
<use href="#cap6" x="1126.2" y="443.1"/>
<use href="#cap6" x="1126.2" y="455.6"/>
<use href="#cap6" x="1126.2" y="468.1"/>
<use href="#cap6" x="1126.2" y="480.5"/>
<use href="#cap6" x="1126.2" y="493"/>
<use href="#cap6" x="1126.2" y="505.4"/>
<use href="#cap6" x="1126.2" y="517.9"/>
<use href="#cap6" x="1126.2" y="530.4"/>
<use href="#cap6" x="1126.2" y="542.8"/>
<path d="M1108 383.5L1095.5 390.5L1098.5 401.5L1084.5 404.5L1089.5 417.5L1077.5 421.5L1083.5 436L1064 438.3L1064 455.5L1108 455.5Z" fill="#5b5b5e"/>
<path d="M1092.5 408L1098 411L1096 425L1088.5 428M1088.5 428L1081 433L1078.7 442L1094 452.5L1098 448" fill="none" stroke="#0a0a0a" stroke-width="1"/>
<rect x="1089.4" y="404.8" width="6.4" height="6.4" fill="#df2140" rx="0.6" stroke="#2a060c" stroke-width="1.1" transform="rotate(8 1092.6 408)"/>
<rect x="1084.4" y="424" width="8" height="8" fill="#df2140" rx="0.6" stroke="#2a060c" stroke-width="1.1" transform="rotate(8 1088.4 428)"/>
<rect x="1075.8" y="439.2" width="6" height="6" fill="#df2140" rx="0.6" stroke="#2a060c" stroke-width="1.1" transform="rotate(8 1078.8 442.2)"/>
<g transform="translate(1099.5 441.5) rotate(-18)"><rect x="-4.6" y="-7.5" width="9.2" height="15" fill="#651a2a" rx="1"/><path d="M-4.6 -4.5H4.6M-4.6 -1.5H4.6M-4.6 1.5H4.6M-4.6 4.5H4.6" fill="none" stroke="#3a0c16" stroke-width="1.1"/></g>
<path d="M1108 552.3L1095.5 545.3L1098.5 534.3L1084.5 531.3L1089.5 518.3L1077.5 514.3L1083.5 499.8L1064 497.5L1064 480.3L1108 480.3Z" fill="#5b5b5e"/>
<path d="M1092.5 527.8L1098 524.8L1096 510.8L1088.5 507.8M1088.5 507.8L1081 502.8L1078.7 493.8L1094 483.3L1098 487.8" fill="none" stroke="#0a0a0a" stroke-width="1"/>
<rect x="1089.4" y="524.6" width="6.4" height="6.4" fill="#df2140" rx="0.6" stroke="#2a060c" stroke-width="1.1" transform="rotate(-8 1092.6 527.8)"/>
<rect x="1084.4" y="503.8" width="8" height="8" fill="#df2140" rx="0.6" stroke="#2a060c" stroke-width="1.1" transform="rotate(-8 1088.4 507.8)"/>
<rect x="1075.8" y="490.6" width="6" height="6" fill="#df2140" rx="0.6" stroke="#2a060c" stroke-width="1.1" transform="rotate(-8 1078.8 493.6)"/>
<g transform="translate(1099.5 494.3) rotate(18)"><rect x="-4.6" y="-7.5" width="9.2" height="15" fill="#651a2a" rx="1"/><path d="M-4.6 -4.5H4.6M-4.6 -1.5H4.6M-4.6 1.5H4.6M-4.6 4.5H4.6" fill="none" stroke="#3a0c16" stroke-width="1.1"/></g>
<path d="M1144 384.5Q1144 376.5 1152 376.5L1206 376.5Q1207.5 376.5 1207.5 378L1207.5 556.7Q1207.5 558.2 1206 558.2L1154 558.2Q1144 558.2 1144 548.2Z" fill="#797979"/>
<circle cx="1155.3" cy="389.3" r="5.8" fill="#5b7a5a" stroke="#0a0a0a" stroke-width="2.5"/>
<circle cx="1172.2" cy="389.3" r="5.8" fill="#7b7a52" stroke="#0a0a0a" stroke-width="2.5"/>
<circle cx="1155.3" cy="405.6" r="5.8" fill="#5b7a5a" stroke="#0a0a0a" stroke-width="2.5"/>
<circle cx="1172.6" cy="405.6" r="5.8" fill="#5b7a5a" stroke="#0a0a0a" stroke-width="2.5"/>
<circle cx="1190" cy="406.3" r="5.8" fill="#5b7a5a" stroke="#0a0a0a" stroke-width="2.5"/>
<circle cx="1155" cy="483.3" r="5.8" fill="#5b6a7c" stroke="#0a0a0a" stroke-width="2.5"/>
<circle cx="1155" cy="499.2" r="5.8" fill="#7a5a7a" stroke="#0a0a0a" stroke-width="2.5"/>
<circle cx="1153.8" cy="542.3" r="5.8" fill="#5b7a5a" stroke="#0a0a0a" stroke-width="2.5"/>
<rect x="1148.7" y="428.2" width="17.7" height="8.6" fill="#7b5c5e" rx="4.7" stroke="#0a0a0a" stroke-width="2.6"/>
<rect x="1148.7" y="440.7" width="17.7" height="8.4" fill="#7b5c5e" rx="4.6" stroke="#0a0a0a" stroke-width="2.6"/>
<rect x="1148.7" y="453" width="17.7" height="8.4" fill="#5b7088" rx="4.6" stroke="#0a0a0a" stroke-width="2.6"/>
<rect x="1147.6" y="521.7" width="16.4" height="8.8" fill="#7a5a7a" rx="4.8" stroke="#0a0a0a" stroke-width="2.6"/>
<rect x="1168.2" y="521.7" width="16.8" height="8.8" fill="#7a5a7a" rx="4.8" stroke="#0a0a0a" stroke-width="2.6"/>
<rect x="1144" y="421.2" width="32.8" height="1.2" fill="#0a0a0a"/>
<rect x="1144" y="467" width="32.8" height="1.2" fill="#0a0a0a"/>
<rect x="1144" y="512.8" width="32.8" height="1.2" fill="#0a0a0a"/>
<path d="M1237.2 361.9Q1237.2 358.5 1240.6 358L1268 353.7Q1272.6 353 1272.6 357.7L1272.6 403.2Q1272.6 406.5 1269.4 407.1L1243.2 412.3Q1237.2 413.5 1237.2 407.4Z" fill="#bdc7d1"/>
<rect x="1246.8" y="357" width="21" height="28.5" fill="#1d2530" rx="1.2"/>
<rect x="1248" y="362.6" width="18.8" height="21.6" fill="#a5c9e8" rx="0.6"/>
<rect x="1248.2" y="358.8" width="8.6" height="3" fill="#fff" rx="0.6"/>
<rect x="1257.8" y="358.8" width="8.6" height="3" fill="#fff" rx="0.6"/>
<rect x="1240.8" y="363" width="5" height="9.5" fill="#39424e" rx="0.8"/>
<circle cx="1243.2" cy="365.8" r="2" fill="#f0a458" stroke="#5a3a10" stroke-width="0.6"/>
<line x1="1243.5" y1="408.2" x2="1266.5" y2="403.8" stroke="#1c222c" stroke-width="7.2" stroke-linecap="round"/><line x1="1243.5" y1="408.2" x2="1266.5" y2="403.8" stroke="#3f5058" stroke-width="5.6" stroke-linecap="round"/>
<rect x="1244" y="406.4" width="5" height="1.6" fill="#b9d8d8" rx="0.5" transform="rotate(-11 1246 407)"/>
<rect x="1251.5" y="405" width="1.6" height="2.2" fill="#dde" transform="rotate(-11 1252 406)"/>
<path d="M1275.2 356.9Q1275.2 352.8 1279.2 352L1331.2 341.9Q1336 341 1336 345.9L1336 384.5Q1336 385.5 1335.2 386.1L1324.4 394.5Q1324 394.8 1323.5 394.9L1282.3 402.3Q1275.2 403.6 1275.2 396.4Z" fill="#bdc7d1"/>
<path d="M1309.6 343V369.4H1336" fill="none" stroke="#0a0a0a" stroke-width="1.6"/>
<rect x="1285.2" y="348" width="20" height="8.6" fill="#454f5c" rx="1" stroke="#18202a" stroke-width="0.8" transform="rotate(-6 1295 352)"/>
<rect x="1286" y="351.4" width="18.4" height="1" fill="#8794a2" transform="rotate(-6 1295 352)"/>
<rect x="1288.6" y="357" width="17.4" height="9.2" fill="#39424e" rx="1.4" stroke="#18202a" stroke-width="0.8" transform="rotate(-6 1297 361.5)"/>
<rect x="1296.4" y="361" width="2.4" height="2.4" fill="#fff"/>
<rect x="1312.6" y="345.2" width="11.6" height="12" fill="#a9dcd2" rx="2.2" stroke="#1f3a3a" stroke-width="1.1"/>
<circle cx="1330.8" cy="343.6" r="2.4" fill="#c5e6d4" stroke="#244" stroke-width="0.7"/>
<rect x="1312.5" y="361" width="7.6" height="4.4" fill="#39424e" rx="1.2"/>
<circle cx="1317.6" cy="363.2" r="1.1" fill="#fff"/>
<line x1="1303.5" y1="391.5" x2="1317.5" y2="383.5" stroke="#1c222c" stroke-width="6.8" stroke-linecap="round"/><line x1="1303.5" y1="391.5" x2="1317.5" y2="383.5" stroke="#3d434c" stroke-width="5.2" stroke-linecap="round"/>
<rect x="1315.6" y="389" width="5.2" height="5.2" fill="#3d434c" rx="0.8" stroke="#1a1e24" stroke-width="1" transform="rotate(-30 1318.2 391.6)"/>
<path d="M1338.8 344Q1338.8 339.6 1343.1 339L1394.9 332Q1400.6 331.2 1400.6 336.9L1400.6 365.8Q1400.6 366.5 1400.2 367L1391.8 377.5Q1391.4 378 1390.7 378.2L1346.2 388.7Q1338.8 390.4 1338.8 382.8Z" fill="#bdc7d1"/>
<rect x="1340.6" y="342.6" width="9.2" height="25.6" fill="#15181d" rx="0.6"/>
<rect x="1343.6" y="344.6" width="4.6" height="21.6" fill="#3c4550" rx="0.4"/>
<line x1="1372.5" y1="337.5" x2="1380.5" y2="347" stroke="#1c222c" stroke-width="8" stroke-linecap="round"/><line x1="1372.5" y1="337.5" x2="1380.5" y2="347" stroke="#3c4550" stroke-width="6.4" stroke-linecap="round"/>
<rect x="1386.3" y="335.9" width="8.6" height="8.6" fill="#3c4550" rx="0.8" stroke="#1a1e24" stroke-width="1" transform="rotate(40 1390.6 340.2)"/>
<rect x="1368.6" y="353.4" width="7.6" height="7.6" fill="#3c4550" rx="0.8" stroke="#1a1e24" stroke-width="1" transform="rotate(28 1372.4 357.2)"/>
<rect x="1391.5" y="354.2" width="6.5" height="6.5" fill="#3c4550" rx="0.8" stroke="#1a1e24" stroke-width="1" transform="rotate(20 1394.8 357.5)"/>
<path d="M1404.2 334.2Q1404.2 329.8 1408.6 329.2L1482.7 319.5Q1488.3 318.8 1488.3 324.5L1488.3 360.6Q1488.3 363.2 1485.7 363.6L1407.6 375Q1404.2 375.5 1404.2 372Z" fill="#bdc7d1"/>
<rect x="1408.8" y="329.6" width="18.6" height="13" fill="#1c2026" rx="1.4" transform="rotate(-6 1418 336)"/>
<rect x="1410.4" y="334.2" width="1.4" height="6.4" fill="#e0aa24" rx="0.3"/>
<rect x="1412.8" y="334" width="1.4" height="6.4" fill="#e0aa24" rx="0.3"/>
<rect x="1415.1" y="333.7" width="1.4" height="6.4" fill="#e0aa24" rx="0.3"/>
<rect x="1417.5" y="333.5" width="1.4" height="6.4" fill="#e0aa24" rx="0.3"/>
<rect x="1419.8" y="333.3" width="1.4" height="6.4" fill="#e0aa24" rx="0.3"/>
<rect x="1422.2" y="333.1" width="1.4" height="6.4" fill="#e0aa24" rx="0.3"/>
<rect x="1424.5" y="332.8" width="1.4" height="6.4" fill="#e0aa24" rx="0.3"/>
<rect x="1428.8" y="330.4" width="9.6" height="6.2" fill="#b58350" rx="0.8" stroke="#18202a" stroke-width="0.6" transform="rotate(-6 1433 333)"/>
<rect x="1438" y="327.4" width="27" height="6.8" fill="#3c4550" rx="1.6" stroke="#18202a" stroke-width="0.6" transform="rotate(-6 1451 331)"/>
<rect x="1455" y="327.2" width="9.6" height="5.2" fill="#6b7890" rx="1.2" transform="rotate(-6 1460 330)"/>
<rect x="1465" y="321.6" width="20.5" height="14.4" fill="#4b5462" rx="1.6" stroke="#12161c" stroke-width="1.2" transform="rotate(-5 1475 329)"/>
<path d="M1416 351.8h8l-0.8 7h-6.4z" fill="#3f4c58" stroke="#161c24" stroke-width="0.8"/>
<rect x="1418" y="354.8" width="1.2" height="2.4" fill="#9ab"/>
<rect x="1420.6" y="354.8" width="1.2" height="2.4" fill="#9ab"/>
<path d="M1458.8 345.2h8l-0.8 7h-6.4z" fill="#3f4c58" stroke="#161c24" stroke-width="0.8"/>
<rect x="1460.8" y="348.2" width="1.2" height="2.4" fill="#9ab"/>
<rect x="1463.4" y="348.2" width="1.2" height="2.4" fill="#9ab"/>
<rect x="1415.5" y="360.8" width="17.5" height="8.4" fill="#39424e" rx="4.2" stroke="#18202a" stroke-width="0.8" transform="rotate(-6 1424 365)"/>
<use href="#st6" x="1410.6" y="368.4"/>
<rect x="1454" y="354" width="17.5" height="8.4" fill="#39424e" rx="4.2" stroke="#18202a" stroke-width="0.8" transform="rotate(-3 1462 358)"/>
<rect x="1458.4" y="357" width="1.4" height="2.4" fill="#9fd0d8"/>
<rect x="1461.6" y="357" width="1.4" height="2.4" fill="#9fd0d8"/>
<use href="#st6" x="1476.3" y="357.2"/>
<path d="M1214.5 515.2Q1211 515.5 1210.8 519V556Q1211 566 1218 571.5Q1224 575 1233.6 574.6V519Q1233 516 1229 516Z" fill="#bdc7d1"/>
<rect x="1211.6" y="520" width="4.6" height="6.4" fill="#a9dcd2" rx="1.6" stroke="#3a5a5a" stroke-width="0.7"/>
<rect x="1225.4" y="518.6" width="6.6" height="5.4" fill="#e4f4f0" rx="0.4" stroke="#1f2a30" stroke-width="0.9"/>
<rect x="1227.6" y="520.2" width="2.2" height="2.2" fill="#a9dcd2"/>
<rect x="1211.6" y="528" width="4.6" height="6.4" fill="#a9dcd2" rx="1.6" stroke="#3a5a5a" stroke-width="0.7"/>
<rect x="1225.4" y="526" width="6.6" height="5.4" fill="#e4f4f0" rx="0.4" stroke="#1f2a30" stroke-width="0.9"/>
<rect x="1227.6" y="527.6" width="2.2" height="2.2" fill="#a9dcd2"/>
<rect x="1211.6" y="536" width="4.6" height="6.4" fill="#a9dcd2" rx="1.6" stroke="#3a5a5a" stroke-width="0.7"/>
<rect x="1225.4" y="533.4" width="6.6" height="5.4" fill="#e4f4f0" rx="0.4" stroke="#1f2a30" stroke-width="0.9"/>
<rect x="1227.6" y="535" width="2.2" height="2.2" fill="#a9dcd2"/>
<rect x="1211.6" y="544" width="4.6" height="6.4" fill="#a9dcd2" rx="1.6" stroke="#3a5a5a" stroke-width="0.7"/>
<rect x="1225.4" y="540.8" width="6.6" height="5.4" fill="#e4f4f0" rx="0.4" stroke="#1f2a30" stroke-width="0.9"/>
<rect x="1227.6" y="542.4" width="2.2" height="2.2" fill="#a9dcd2"/>
<path d="M1226 546V552H1229V566" fill="none" stroke="#0a0a0a" stroke-width="1.4"/>
<rect x="1220" y="560" width="12" height="12.5" fill="#a9dcd2" rx="2.2" stroke="#1f3a3a" stroke-width="1.1"/>
<path d="M1237.4 526.6Q1237.4 520.6 1243.3 521.6L1260.9 524.8Q1261 524.8 1261.1 524.8L1276.8 529.5Q1280.4 530.6 1279.6 534.2L1270.9 573.8Q1269.8 579 1264.5 578.4L1244.6 576.4Q1243 576.2 1242.2 574.8L1237.8 566.7Q1237.4 566 1237.4 565.2Z" fill="#bdc7d1"/>
<path d="M1237.4 541.6L1255.8 545.4L1260 527" fill="none" stroke="#0a0a0a" stroke-width="1.3"/>
<rect x="1246.6" y="523.8" width="10.8" height="11.2" fill="#a9dcd2" rx="2.2" stroke="#1f3a3a" stroke-width="1.1"/>
<circle cx="1243" cy="522.4" r="2.2" fill="#c5e6d4" stroke="#244" stroke-width="0.6"/>
<rect x="1249" y="537.4" width="4.2" height="3.6" fill="#e4f4f0" rx="0.4" stroke="#1f2a30" stroke-width="0.8"/>
<circle cx="1258" cy="558" r="6.2" fill="#4a5058" stroke="#1a1e24" stroke-width="1"/>
<rect x="1244.3" y="560.1" width="7" height="7" fill="#3c4550" rx="0.8" stroke="#1a1e24" stroke-width="1" transform="rotate(-28 1247.8 563.6)"/>
<rect x="1266.6" y="546" width="6" height="27" fill="#5a7080" rx="1.4" stroke="#1c2a34" stroke-width="0.9" transform="rotate(4 1269 559)"/>
<line x1="1248.5" y1="574.2" x2="1265" y2="576.2" stroke="#1c222c" stroke-width="6.2" stroke-linecap="round"/><line x1="1248.5" y1="574.2" x2="1265" y2="576.2" stroke="#3f5058" stroke-width="4.6" stroke-linecap="round"/>
<rect x="1252" y="574" width="9" height="1.3" fill="#a9dcd2" transform="rotate(7 1256 575)"/>
<path d="M1281 531.7Q1281.4 529.8 1283.3 530.1L1300.2 533.1Q1303 533.6 1304.9 535.8L1308.4 539.9Q1309.4 541 1309.1 542.5L1300.2 582.8Q1299.6 585.6 1296.8 585.1L1273.7 581.1Q1270.6 580.6 1271.2 577.5Z" fill="#bdc7d1"/>
<line x1="1288" y1="535.4" x2="1302" y2="539.4" stroke="#1c222c" stroke-width="6.4" stroke-linecap="round"/><line x1="1288" y1="535.4" x2="1302" y2="539.4" stroke="#3f5058" stroke-width="4.8" stroke-linecap="round"/>
<rect x="1295" y="544" width="5" height="5" fill="#3f5058" rx="0.8" stroke="#1a1e24" stroke-width="1" transform="rotate(12 1297.5 546.5)"/>
<g transform="rotate(9 1292.1 557.4)"><rect x="1281.6" y="550.4" width="21" height="14" fill="#a5c9e8" rx="1.2" stroke="#18202a" stroke-width="1.4"/><rect x="1299.2" y="551.4" width="2.6" height="12" fill="#fff" rx="0.8" stroke="#18202a" stroke-width="0.6"/></g>
<g transform="rotate(9 1286.7 573.4)"><rect x="1276.2" y="566.6" width="21" height="13.6" fill="#a5c9e8" rx="1.2" stroke="#18202a" stroke-width="1.4"/><rect x="1293.8" y="567.6" width="2.6" height="11.6" fill="#fff" rx="0.8" stroke="#18202a" stroke-width="0.6"/></g>
<path d="M1277 561.5L1303.5 566" fill="none" stroke="#0a0a0a" stroke-width="1.2"/>
<rect x="1304" y="546.4" width="3.4" height="3.4" fill="#f0b888" rx="0.4" stroke="#3a2410" stroke-width="0.7" transform="rotate(12 1305.5 548)"/>
<rect x="1291.5" y="580.6" width="3.4" height="3.4" fill="#f0b888" rx="0.4" stroke="#3a2410" stroke-width="0.7" transform="rotate(12 1293 582)"/>
<path d="M1314 544.6Q1315 541.4 1318.3 541.8L1339.8 544.2Q1343 544.6 1342.4 547.8L1334 589.2Q1333.4 592 1330.6 591.6L1304.3 587.7Q1300.8 587.2 1301.8 583.9Z" fill="#bdc7d1"/>
<line x1="1321" y1="544.4" x2="1336.5" y2="547" stroke="#1c222c" stroke-width="6.4" stroke-linecap="round"/><line x1="1321" y1="544.4" x2="1336.5" y2="547" stroke="#3f5058" stroke-width="4.8" stroke-linecap="round"/>
<g transform="rotate(9 1324.3 564.2)"><rect x="1314.6" y="558.2" width="19.4" height="12" fill="#a5c9e8" rx="1.2" stroke="#18202a" stroke-width="1.4"/><rect x="1315.4" y="559.2" width="2.6" height="10" fill="#fff" rx="0.8" stroke="#18202a" stroke-width="0.6"/></g>
<g transform="rotate(9 1319.2 578.2)"><rect x="1309" y="571.4" width="20.4" height="13.6" fill="#a5c9e8" rx="1.2" stroke="#18202a" stroke-width="1.4"/><rect x="1309.8" y="572.4" width="2.6" height="11.6" fill="#fff" rx="0.8" stroke="#18202a" stroke-width="0.6"/></g>
<path d="M1307 568L1334.5 572.5" fill="none" stroke="#0a0a0a" stroke-width="1.2"/>
<rect x="1315.2" y="549.6" width="3.6" height="3.6" fill="#f0b888" rx="0.4" stroke="#3a2410" stroke-width="0.7" transform="rotate(-30 1317 551.5)"/>
<rect x="1303.6" y="580.6" width="3.2" height="3.2" fill="#f0b888" rx="0.4" stroke="#3a2410" stroke-width="0.7"/>
<path d="M1343.9 548.7Q1344.4 545.6 1347.5 546.3L1392.6 556.3Q1395 556.8 1395 559.2L1395 600.2Q1395 603.8 1391.5 603.2L1338.9 593.5Q1336 593 1336.5 590.1Z" fill="#bdc7d1"/>
<rect x="1338.4" y="566" width="6.6" height="24.5" fill="#5a7080" rx="1.4" stroke="#1c2a34" stroke-width="0.9" transform="rotate(5 1341.7 578)"/>
<circle cx="1354" cy="580" r="6.4" fill="#4a5058" stroke="#1a1e24" stroke-width="1"/>
<rect x="1357.2" y="566.7" width="5.6" height="5.6" fill="#3c4550" rx="0.8" stroke="#1a1e24" stroke-width="1" transform="rotate(30 1360 569.5)"/>
<rect x="1354.4" y="587.4" width="6" height="6" fill="#3c4550" rx="0.8" stroke="#1a1e24" stroke-width="1" transform="rotate(-20 1357.4 590.4)"/>
<line x1="1375" y1="554.6" x2="1391" y2="558.2" stroke="#1c222c" stroke-width="6.2" stroke-linecap="round"/><line x1="1375" y1="554.6" x2="1391" y2="558.2" stroke="#3f5058" stroke-width="4.6" stroke-linecap="round"/>
<path d="M1369 601V576.4H1393.6" fill="none" stroke="#0a0a0a" stroke-width="1.3"/>
<rect x="1379" y="589.4" width="10.6" height="10.6" fill="#a9dcd2" rx="2.2" stroke="#1f3a3a" stroke-width="1.1"/>
<circle cx="1373.4" cy="593.6" r="1.8" fill="#e4f4f0" stroke="#1f2a30" stroke-width="0.8"/>
<rect x="1373" y="577.8" width="4" height="3.2" fill="#e4f4f0" rx="0.4" stroke="#1f2a30" stroke-width="0.7"/>
<path d="M1397 561.3Q1397 556.6 1401.6 557.3L1427.2 561.5Q1430.6 562 1430.6 565.4L1430.6 602.3Q1430.6 606.8 1426.1 606.2L1399.6 602.9Q1397 602.6 1397 600Z" fill="#bdc7d1"/>
<line x1="1405" y1="560" x2="1421.5" y2="562.4" stroke="#1c222c" stroke-width="6.2" stroke-linecap="round"/><line x1="1405" y1="560" x2="1421.5" y2="562.4" stroke="#3f5058" stroke-width="4.6" stroke-linecap="round"/>
<rect x="1411" y="560.8" width="9" height="1.2" fill="#a9dcd2" transform="rotate(8 1415 561.5)"/>
<g transform="rotate(3 1411.6 579)"><rect x="1401.4" y="573.2" width="20.4" height="11.6" fill="#a5c9e8" rx="1.2" stroke="#18202a" stroke-width="1.4"/><rect x="1402.2" y="574.2" width="2.6" height="9.6" fill="#fff" rx="0.8" stroke="#18202a" stroke-width="0.6"/></g>
<g transform="rotate(3 1410.3 594)"><rect x="1400.6" y="588.2" width="19.4" height="11.6" fill="#a5c9e8" rx="1.2" stroke="#18202a" stroke-width="1.4"/><rect x="1401.4" y="589.2" width="2.6" height="9.6" fill="#fff" rx="0.8" stroke="#18202a" stroke-width="0.6"/></g>
<path d="M1398 585.2L1423 587" fill="none" stroke="#0a0a0a" stroke-width="1.2"/>
<rect x="1401.4" y="568.6" width="3.2" height="3.2" fill="#f0b888" rx="0.4" stroke="#3a2410" stroke-width="0.7"/>
<rect x="1400" y="600" width="3.2" height="3.2" fill="#f0b888" rx="0.4" stroke="#3a2410" stroke-width="0.7"/>
<path d="M1432.1 565.3Q1432.4 562 1435.7 562.6L1480.9 571Q1484.2 571.6 1484.2 574.9L1484.2 610.4Q1484.2 615 1479.7 614.4L1431.4 607.8Q1428.6 607.4 1428.8 604.6Z" fill="#bdc7d1"/>
<rect x="1432.4" y="581" width="6.6" height="25" fill="#5a7080" rx="1.4" stroke="#1c2a34" stroke-width="0.9" transform="rotate(1 1435 593)"/>
<circle cx="1444.8" cy="595" r="6.3" fill="#4a5058" stroke="#1a1e24" stroke-width="1"/>
<rect x="1452.8" y="588.6" width="5.6" height="5.6" fill="#3c4550" rx="0.8" stroke="#1a1e24" stroke-width="1" transform="rotate(5 1455.6 591.4)"/>
<rect x="1447" y="602" width="6" height="6" fill="#3c4550" rx="0.8" stroke="#1a1e24" stroke-width="1" transform="rotate(40 1450 605)"/>
<line x1="1461" y1="568.4" x2="1477.5" y2="571.4" stroke="#1c222c" stroke-width="6.2" stroke-linecap="round"/><line x1="1461" y1="568.4" x2="1477.5" y2="571.4" stroke="#3f5058" stroke-width="4.6" stroke-linecap="round"/>
<circle cx="1472" cy="570.5" r="0.8" fill="#dfe"/>
<circle cx="1475.5" cy="571.1" r="0.8" fill="#dfe"/>
<path d="M1463 613V591.6H1484" fill="none" stroke="#0a0a0a" stroke-width="1.3"/>
<rect x="1471.2" y="601.6" width="10.6" height="10.6" fill="#a9dcd2" rx="2.2" stroke="#1f3a3a" stroke-width="1.1"/>
<circle cx="1466.4" cy="607.6" r="1.8" fill="#e4f4f0" stroke="#1f2a30" stroke-width="0.8"/>
<rect x="1465.4" y="593" width="4" height="3.2" fill="#e4f4f0" rx="0.4" stroke="#1f2a30" stroke-width="0.7"/>
<path d="M1490.2 324.3Q1490.2 321 1492.9 319.2L1496.3 317Q1497 316.6 1497.8 316.6L1544.6 314.5Q1546 314.4 1546.9 315.4L1548.9 317.4Q1549.4 318 1549.4 318.8L1549.4 346.1Q1549.4 347.5 1548.4 348.4L1537.9 357.6Q1537 358.4 1535.7 358.5L1492.4 363.4Q1490.2 363.6 1490.2 361.4Z" fill="#5b5956"/>
<clipPath id="cc0"><path d="M1490.2 324.3Q1490.2 321 1492.9 319.2L1496.3 317Q1497 316.6 1497.8 316.6L1544.6 314.5Q1546 314.4 1546.9 315.4L1548.9 317.4Q1549.4 318 1549.4 318.8L1549.4 346.1Q1549.4 347.5 1548.4 348.4L1537.9 357.6Q1537 358.4 1535.7 358.5L1492.4 363.4Q1490.2 363.6 1490.2 361.4Z"/></clipPath>
<g clip-path="url(#cc0)"><path d="M1480 330L1500 366M1483.4 330L1503.4 366M1486.8 330L1506.8 366M1490.2 330L1510.2 366M1493.6 330L1513.6 366M1497 330L1517 366M1500.4 330L1520.4 366M1503.8 330L1523.8 366M1507.2 330L1527.2 366M1528 318H1550M1528 320.6H1550M1528 323.2H1550M1528 325.8H1550M1528 328.4H1550M1528 331H1550" fill="none" stroke="#3c3a38" stroke-width="0.9"/><rect x="1545.6" y="314" width="4" height="36" fill="#3a3a3a"/></g>
<circle cx="1496.6" cy="348.8" r="3.4" fill="#2c6466" stroke="#11302f" stroke-width="1"/>
<circle cx="1496.6" cy="348.8" r="1.3" fill="#11302f"/>
<use href="#cc6" x="1521" y="338.6"/>
<path d="M1490.2 610.3Q1490.2 613.6 1492.9 615.4L1496.3 617.6Q1497 618 1497.8 618L1544.6 620.1Q1546 620.2 1546.9 619.2L1548.9 617.2Q1549.4 616.6 1549.4 615.8L1549.4 588.5Q1549.4 587.1 1548.4 586.2L1537.9 577Q1537 576.2 1535.7 576.1L1492.4 571.2Q1490.2 571 1490.2 573.2Z" fill="#5b5956"/>
<clipPath id="cc1"><path d="M1490.2 610.3Q1490.2 613.6 1492.9 615.4L1496.3 617.6Q1497 618 1497.8 618L1544.6 620.1Q1546 620.2 1546.9 619.2L1548.9 617.2Q1549.4 616.6 1549.4 615.8L1549.4 588.5Q1549.4 587.1 1548.4 586.2L1537.9 577Q1537 576.2 1535.7 576.1L1492.4 571.2Q1490.2 571 1490.2 573.2Z"/></clipPath>
<g clip-path="url(#cc1)"><path d="M1480 604.6L1500 568.6M1483.4 604.6L1503.4 568.6M1486.8 604.6L1506.8 568.6M1490.2 604.6L1510.2 568.6M1493.6 604.6L1513.6 568.6M1497 604.6L1517 568.6M1500.4 604.6L1520.4 568.6M1503.8 604.6L1523.8 568.6M1507.2 604.6L1527.2 568.6M1528 616.6H1550M1528 614H1550M1528 611.4H1550M1528 608.8H1550M1528 606.2H1550M1528 603.6H1550" fill="none" stroke="#3c3a38" stroke-width="0.9"/><rect x="1545.6" y="584.6" width="4" height="36" fill="#3a3a3a"/></g>
<circle cx="1496.6" cy="585.8" r="3.4" fill="#2c6466" stroke="#11302f" stroke-width="1"/>
<circle cx="1496.6" cy="585.8" r="1.3" fill="#11302f"/>
<use href="#cc6" x="1521" y="596"/>
<path d="M1553 316.2C1562 315.8 1560 314.7 1580 314.9C1600 315.1 1589.7 315.1 1613 316.9C1636.3 318.7 1624.3 317.7 1650 320.4C1675.7 323.1 1670 322.7 1690 325.1C1710 327.5 1687.8 324.5 1710 327.7C1732.2 330.9 1724.5 329.1 1756.7 334.6C1788.9 340.1 1784.9 339.5 1806.7 344.3C1828.5 349.1 1815.6 345.9 1822 349C1828.4 352.1 1826.3 350.3 1826 353.6C1825.7 356.9 1822.7 357.1 1821 358.8L1700 358.7L1592 356.2C1589.5 355.5 1588.8 356.2 1584.5 354C1580.2 351.8 1583.2 352.1 1579 349.5C1574.8 346.9 1577.7 347.6 1572 346.2C1566.3 344.8 1568.8 346.1 1562 345.2C1555.2 344.3 1555.1 344 1551.6 343.4L1551.6 320Q1551.6 316.4 1553 316.2Z" fill="#4b4b4d"/>
<use href="#sc6" transform="translate(1561.2 329.3) rotate(5)"/>
<use href="#sc6" transform="translate(1589.3 332) rotate(8)"/>
<use href="#sc6" transform="translate(1617.4 335.4) rotate(6.4)"/>
<use href="#sc6" transform="translate(1645.5 338.1) rotate(5.2)"/>
<use href="#sc6" transform="translate(1673.3 341) rotate(5.2)"/>
<use href="#sc6" transform="translate(1701.7 343.6) rotate(5)"/>
<use href="#sc6" transform="translate(1730 345.8) rotate(5)"/>
<path d="M1553 618.4C1562 618.8 1560 619.9 1580 619.7C1600 619.5 1589.7 619.5 1613 617.7C1636.3 615.9 1624.3 616.9 1650 614.2C1675.7 611.5 1670 611.9 1690 609.5C1710 607.1 1687.8 610.1 1710 606.9C1732.2 603.7 1724.5 605.5 1756.7 600C1788.9 594.5 1784.9 595.1 1806.7 590.3C1828.5 585.5 1815.6 588.7 1822 585.6C1828.4 582.5 1826.3 584.3 1826 581C1825.7 577.7 1822.7 577.5 1821 575.8L1700 575.9L1592 578.4C1589.5 579.1 1588.8 578.4 1584.5 580.6C1580.2 582.8 1583.2 582.5 1579 585.1C1574.8 587.7 1577.7 587 1572 588.4C1566.3 589.8 1568.8 588.5 1562 589.4C1555.2 590.3 1555.1 590.6 1551.6 591.2L1551.6 614.6Q1551.6 618.2 1553 618.4Z" fill="#4b4b4d"/>
<use href="#sc6" transform="translate(1561.2 605.3) rotate(-5) scale(1 -1)"/>
<use href="#sc6" transform="translate(1589.3 602.6) rotate(-8) scale(1 -1)"/>
<use href="#sc6" transform="translate(1617.4 599.2) rotate(-6.4) scale(1 -1)"/>
<use href="#sc6" transform="translate(1645.5 596.5) rotate(-5.2) scale(1 -1)"/>
<use href="#sc6" transform="translate(1673.3 593.6) rotate(-5.2) scale(1 -1)"/>
<use href="#sc6" transform="translate(1701.7 591) rotate(-5) scale(1 -1)"/>
<use href="#sc6" transform="translate(1730 588.8) rotate(-5) scale(1 -1)"/>
<path d="M1557.6 408Q1563 389 1585.4 382.6L1585.4 552Q1563 545.6 1557.6 526.6Z" fill="#bdc7d1"/>
<rect x="1557.6" y="406" width="3.6" height="22" fill="#3a3f46" rx="1"/>
<rect x="1557.6" y="506.6" width="3.6" height="22" fill="#3a3f46" rx="1"/>
<clipPath id="dfc"><rect x="1585" y="378" width="113.3" height="178.6"/></clipPath>
<g clip-path="url(#dfc)"><rect x="1585" y="378" width="114" height="178.6" fill="#2c2c2c"/><rect x="1586.2" y="379.5" width="3.4" height="175.6" fill="#6a6a6a"/><rect x="1590.6" y="379.5" width="3.2" height="175.6" fill="#9a9a9a"/><rect x="1594.8" y="379.5" width="2.8" height="175.6" fill="#7a7a7a"/><rect x="1598.8" y="380.4" width="102" height="173.8" fill="#7c7c7c" rx="3" stroke="#1c1c1c" stroke-width="1.2"/><rect x="1601.2" y="389.6" width="110" height="155.4" fill="#6f6f6f" stroke="#242424" stroke-width="1.9"/><rect x="1603.9" y="393.4" width="110" height="147.9" fill="#8e8e8e" stroke="#242424" stroke-width="1.9"/><rect x="1606.6" y="397.1" width="110" height="140.4" fill="#6f6f6f" stroke="#242424" stroke-width="1.9"/><rect x="1609.3" y="400.9" width="110" height="132.9" fill="#8e8e8e" stroke="#242424" stroke-width="1.9"/><rect x="1612" y="404.6" width="110" height="125.4" fill="#6f6f6f" stroke="#242424" stroke-width="1.9"/><rect x="1614.7" y="408.4" width="110" height="117.9" fill="#8e8e8e" stroke="#242424" stroke-width="1.9"/><rect x="1617.4" y="412.1" width="110" height="110.4" fill="#6f6f6f" stroke="#242424" stroke-width="1.9"/><rect x="1620.1" y="415.9" width="110" height="102.9" fill="#797979" stroke="#242424" stroke-width="1.9"/><rect x="1670" y="452" width="30" height="4.4" fill="#1a1a1a"/><rect x="1670" y="456.4" width="30" height="4.4" fill="#4c4c4c"/><rect x="1670" y="460.8" width="30" height="4.4" fill="#1a1a1a"/><rect x="1670" y="465.2" width="30" height="4.4" fill="#3c3c3c"/><rect x="1670" y="469.6" width="30" height="4.4" fill="#1a1a1a"/><rect x="1670" y="474" width="30" height="4.4" fill="#4c4c4c"/><rect x="1670" y="478.4" width="30" height="4.4" fill="#1a1a1a"/></g>
<g transform="translate(1582.5 432.5) rotate(-45)"><rect x="-21" y="-3.6" width="42" height="7.2" fill="#4d4d50" rx="2" stroke="#0a0a0a" stroke-width="1.1"/><path d="M-6 3.6Q0 8 6 3.6" fill="#4d4d50" stroke="#0a0a0a" stroke-width="1"/></g>
<g transform="translate(1582.5 502.1) rotate(45)"><rect x="-21" y="-3.6" width="42" height="7.2" fill="#4d4d50" rx="2" stroke="#0a0a0a" stroke-width="1.1"/><path d="M-6 -3.6Q0 -8 6 -3.6" fill="#4d4d50" stroke="#0a0a0a" stroke-width="1"/></g>
<circle cx="1626.3" cy="467.3" r="51.6" fill="#4f8588" stroke="#081414" stroke-width="1.6"/>
<circle cx="1626.3" cy="467.3" r="47.4" fill="none" stroke="#0e2224" stroke-width="1.2"/>
<circle cx="1626.3" cy="467.3" r="43.4" fill="none" stroke="#0e2224" stroke-width="1.2"/>
<circle cx="1626.3" cy="467.3" r="39.4" fill="#4f8588" stroke="#0e2224" stroke-width="1.4"/>
<path d="M1648.8 467.3L1664.9 467.3M1648.6 470.5L1664.5 472.8M1647.9 473.6L1663.3 478.2M1646.8 476.6L1661.4 483.3M1645.2 479.5L1658.8 488.2M1643.3 482L1655.5 492.6M1641 484.3L1651.6 496.5M1638.5 486.2L1647.2 499.8M1635.6 487.8L1642.3 502.4M1632.6 488.9L1637.2 504.3M1629.5 489.6L1631.8 505.5M1626.3 489.8L1626.3 505.9M1623.1 489.6L1620.8 505.5M1620 488.9L1615.4 504.3M1617 487.8L1610.3 502.4M1614.1 486.2L1605.4 499.8M1611.6 484.3L1601 496.5M1609.3 482L1597.1 492.6M1607.4 479.5L1593.8 488.2M1605.8 476.6L1591.2 483.3M1604.7 473.6L1589.3 478.2M1604 470.5L1588.1 472.8M1603.8 467.3L1587.7 467.3M1604 464.1L1588.1 461.8M1604.7 461L1589.3 456.4M1605.8 458L1591.2 451.3M1607.4 455.1L1593.8 446.4M1609.3 452.6L1597.1 442M1611.6 450.3L1601 438.1M1614.1 448.4L1605.4 434.8M1617 446.8L1610.3 432.2M1620 445.7L1615.4 430.3M1623.1 445L1620.8 429.1M1626.3 444.8L1626.3 428.7M1629.5 445L1631.8 429.1M1632.6 445.7L1637.2 430.3M1635.6 446.8L1642.3 432.2M1638.5 448.4L1647.2 434.8M1641 450.3L1651.6 438.1M1643.3 452.6L1655.5 442M1645.2 455.1L1658.8 446.4M1646.8 458L1661.4 451.3M1647.9 461L1663.3 456.4M1648.6 464.1L1664.5 461.8" fill="none" stroke="#0e2224" stroke-width="1.2"/>
<circle cx="1626.3" cy="467.3" r="22" fill="#4f8588" stroke="#0e2224" stroke-width="1.4"/>
<circle cx="1626.3" cy="467.3" r="14.6" fill="#5f9b9b" stroke="#0e2224" stroke-width="1.3"/>
<circle cx="1626.3" cy="467.3" r="9.4" fill="none" stroke="#0e2224" stroke-width="1"/>
<path d="M1707.8 383.2Q1707.8 374.2 1716.8 374.2L1790 374.2L1790 560.4L1716.8 560.4Q1707.8 560.4 1707.8 551.4Z" fill="#505050"/>
<rect x="1707.8" y="389" width="90" height="156.6" fill="#4a4a4a"/>
<path d="M1707.8 389.5H1775M1707.8 545.1H1775M1707.8 393H1775M1707.8 541.6H1775M1707.8 396.5H1775M1707.8 538.1H1775M1707.8 400H1775M1707.8 534.6H1775M1707.8 403.5H1775M1707.8 531.1H1775M1707.8 407H1775M1707.8 527.6H1775M1707.8 410.5H1775M1707.8 524.1H1775" fill="none" stroke="#1a1a1a" stroke-width="1.4"/>
<rect x="1707.8" y="452" width="20" height="30.8" fill="#2a2a2a"/>
<path d="M1797 367.2C1788.5 371.5 1785.7 371.1 1771.6 380C1757.5 388.9 1765 384 1754.6 394C1744.2 404 1750.5 398 1740.4 410C1730.3 422 1733.2 416.7 1724.4 430C1715.6 443.3 1718.5 437.6 1714 450C1709.5 462.4 1711 455.8 1711 467.3C1711 478.8 1709.5 472.2 1714 484.6C1718.5 497 1715.6 491.3 1724.4 504.6C1733.2 517.9 1730.3 512.6 1740.4 524.6C1750.5 536.6 1744.2 530.6 1754.6 540.6C1765 550.6 1757.5 545.7 1771.6 554.6C1785.7 563.5 1788.5 563.1 1797 567.4L1822 566.2L1812 548.6L1808.5 544.6L1808.5 390L1812 386L1822 368.4Z" fill="#323232"/>
<clipPath id="parc"><path d="M1797 367.2C1788.5 371.5 1785.7 371.1 1771.6 380C1757.5 388.9 1765 384 1754.6 394C1744.2 404 1750.5 398 1740.4 410C1730.3 422 1733.2 416.7 1724.4 430C1715.6 443.3 1718.5 437.6 1714 450C1709.5 462.4 1711 455.8 1711 467.3C1711 478.8 1709.5 472.2 1714 484.6C1718.5 497 1715.6 491.3 1724.4 504.6C1733.2 517.9 1730.3 512.6 1740.4 524.6C1750.5 536.6 1744.2 530.6 1754.6 540.6C1765 550.6 1757.5 545.7 1771.6 554.6C1785.7 563.5 1788.5 563.1 1797 567.4L1822 566.2L1812 548.6L1808.5 544.6L1808.5 390L1812 386L1822 368.4Z"/></clipPath>
<g clip-path="url(#parc)"><rect x="1743" y="389.5" width="46" height="155.6" fill="#4a4a4a" rx="9.5" stroke="#141414" stroke-width="1.3"/><rect x="1746.7" y="393" width="38.8" height="148.6" fill="#444444" rx="8.1" stroke="#141414" stroke-width="1.3"/><rect x="1750.4" y="396.5" width="31.6" height="141.6" fill="#4a4a4a" rx="6.7" stroke="#141414" stroke-width="1.3"/><rect x="1754.1" y="400" width="24.4" height="134.6" fill="#2d2d2f" rx="5.3" stroke="#141414" stroke-width="1.3"/><rect x="1709" y="448.4" width="33" height="37.8" fill="#6a6a6a"/><path d="M1709 459.6L1712.5 459.6L1741.5 449.6V485L1712.5 475L1709 475Z" fill="#46484c" stroke="#111" stroke-width="1"/><rect x="1741.2" y="444.2" width="9" height="46.2" fill="#4a4c50" stroke="#111" stroke-width="1"/><rect x="1750.2" y="448.6" width="4.4" height="37.4" fill="#6c6c6c" stroke="#111" stroke-width="0.8"/><path d="M1755.2 442.6L1770.6 449.4V485.2L1755.2 492Z" fill="#37393d" stroke="#111" stroke-width="1"/><rect x="1772" y="444.8" width="13" height="45" fill="#56585c" stroke="#111" stroke-width="1"/><rect x="1785.6" y="446.6" width="3.4" height="41.4" fill="#6a6a6a" stroke="#111" stroke-width="0.7"/><rect x="1789.4" y="445.4" width="5.6" height="43.8" fill="#56585c" stroke="#111" stroke-width="0.8"/><rect x="1795.6" y="446.8" width="2.6" height="41" fill="#6a6a6a" stroke="#111" stroke-width="0.6"/><rect x="1799" y="446" width="3.6" height="42.6" fill="#56585c" stroke="#111" stroke-width="0.7"/></g>
<path d="M1797 367.2C1788.5 371.5 1785.7 371.1 1771.6 380C1757.5 388.9 1765 384 1754.6 394C1744.2 404 1750.5 398 1740.4 410C1730.3 422 1733.2 416.7 1724.4 430C1715.6 443.3 1718.5 437.6 1714 450C1709.5 462.4 1711 455.8 1711 467.3C1711 478.8 1709.5 472.2 1714 484.6C1718.5 497 1715.6 491.3 1724.4 504.6C1733.2 517.9 1730.3 512.6 1740.4 524.6C1750.5 536.6 1744.2 530.6 1754.6 540.6C1765 550.6 1757.5 545.7 1771.6 554.6C1785.7 563.5 1788.5 563.1 1797 567.4" fill="none" stroke="#000" stroke-width="6" stroke-linecap="round"/>
<rect x="1714.6" y="385" width="12.6" height="33.4" fill="#0c0c0c" rx="1.2" stroke="#2a2a2a" stroke-width="0.8"/>
<line x1="1716.1" y1="388.6" x2="1716.1" y2="416.6" stroke="#a6def8" stroke-width="2.1" stroke-dasharray="2.1 1.46"/>
<line x1="1720.7" y1="388.6" x2="1720.7" y2="416.6" stroke="#5a9cd2" stroke-width="2.1" stroke-dasharray="2.1 1.46"/>
<line x1="1725.3" y1="388.6" x2="1725.3" y2="416.6" stroke="#a6def8" stroke-width="2.1" stroke-dasharray="2.1 1.46"/>
<rect x="1714.6" y="515.2" width="12.6" height="33.4" fill="#0c0c0c" rx="1.2" stroke="#2a2a2a" stroke-width="0.8"/>
<line x1="1716.1" y1="518.8" x2="1716.1" y2="546.8" stroke="#a6def8" stroke-width="2.1" stroke-dasharray="2.1 1.46"/>
<line x1="1720.7" y1="518.8" x2="1720.7" y2="546.8" stroke="#5a9cd2" stroke-width="2.1" stroke-dasharray="2.1 1.46"/>
<line x1="1725.3" y1="518.8" x2="1725.3" y2="546.8" stroke="#a6def8" stroke-width="2.1" stroke-dasharray="2.1 1.46"/>
<path d="M1803 467.3L1803.3 450L1805 416.7L1808.5 390L1812 386L1827.6 396L1835 425L1839.6 453L1840.5 467.3L1839.6 481.6L1835 509.6L1827.6 538.6L1812 548.6L1808.5 544.6L1805 517.9L1803.3 484.6Z" fill="#6fc0f4" stroke="#0d1a26" stroke-width="1.2" stroke-linejoin="round"/>
<path d="M1803 467.3H1840M1813 388Q1810 430 1816 455M1813 546.6Q1810 504.6 1816 479.6M1822 392.5Q1822.5 430 1819.5 452M1822 542.1Q1822.5 504.6 1819.5 482.6M1805.5 412L1815 453M1805.5 522.6L1815 481.6M1833 417L1822 453M1833 517.6L1822 481.6M1803.5 443L1813.5 460M1803.5 491.6L1813.5 474.6M1839 449L1823.5 460M1839 485.6L1823.5 474.6M1815 453Q1818.5 449.5 1822 453L1824 460Q1825 467.3 1824 474.6L1822 481.6Q1818.5 485.1 1815 481.6L1813.5 474.6Q1812.4 467.3 1813.5 460Z" fill="none" stroke="#1d5f92" stroke-width="0.9"/>
<path d="M1233.5 445C1247.3 441.1 1242.5 442.1 1275 433.2C1307.5 424.3 1293.5 427.5 1331 418.2C1368.5 408.9 1349.9 412.9 1387.5 405.2C1425.1 397.5 1406.3 400.6 1443.8 395C1481.3 389.4 1474.3 391.1 1500 388.4C1525.7 385.7 1514 387.5 1521 387" fill="none" stroke="#000" stroke-width="3.2" stroke-dasharray="10 1.4 5 1.4 16 1.4 3 1.4"/>
<path d="M1233.5 489.6C1247.3 493.5 1242.5 492.5 1275 501.4C1307.5 510.3 1293.5 507.1 1331 516.4C1368.5 525.7 1349.9 521.7 1387.5 529.4C1425.1 537.1 1406.3 534 1443.8 539.6C1481.3 545.2 1474.3 543.5 1500 546.2C1525.7 548.9 1514 547.1 1521 547.6" fill="none" stroke="#000" stroke-width="3.2" stroke-dasharray="10 1.4 5 1.4 16 1.4 3 1.4"/>
<path d="M1330.3 467.3L1330.3 450.6Q1330.3 447.6 1333.2 446.8C1342.1 443.6 1341.9 443.5 1360 437.2C1378.1 430.9 1369.2 433.9 1387.5 428C1405.8 422.1 1396.2 424.9 1415 419.6C1433.8 414.3 1427.1 416.1 1443.8 412.2C1460.5 408.3 1454 410 1465 408C1476 406 1472.9 406.8 1476.8 406.2Q1481.4 406 1481.4 411L1481.4 523.6Q1481.4 528.6 1476.8 528.4C1472.9 527.8 1476 528.6 1465 526.6C1454 524.6 1460.5 526.3 1443.8 522.4C1427.1 518.5 1433.8 520.3 1415 515C1396.2 509.7 1405.8 512.5 1387.5 506.6C1369.2 500.7 1378.1 503.7 1360 497.4C1341.9 491.1 1342.1 491 1333.2 487.8Q1330.3 487 1330.3 484Z" fill="#fff" stroke="#000" stroke-width="1.5"/>
<circle cx="1420.6" cy="467.8" r="29" fill="#000"/>
<circle cx="1420.6" cy="467.8" r="26.9" fill="#45c3ec"/>
<circle cx="1420.6" cy="467.8" r="22.3" fill="#050505"/>
<circle cx="1420.6" cy="467.8" r="9.5" fill="#62b0f2"/>
<path d="M1262.6 449.8Q1262.6 448.8 1263.6 448.8L1269.4 448.8Q1270.4 448.8 1270.4 449.8L1270.6 455Q1270.6 455.5 1271.1 455.8L1273 457Q1273.8 457.5 1273.7 458.5L1273.3 461.5Q1273.2 462 1272.7 462.2L1271.8 462.7Q1271.2 463 1271.2 463.6L1271.2 471.4Q1271.2 472 1271.8 472.3L1272.7 472.8Q1273.2 473 1273.3 473.5L1273.7 476.6Q1273.8 477.5 1273.1 478L1271 479.7Q1270.6 480 1270.6 480.5L1270.4 486.4Q1270.4 487.4 1269.4 487.4L1263.6 487.4Q1262.6 487.4 1262.6 486.4Z" fill="#1e2024" stroke="#0a0a0a" stroke-width="0.8"/>
<path d="M1314.6 448.8Q1315.6 448.8 1315.6 449.8L1316 486Q1316 487 1315 487L1309.4 487Q1308.4 487 1308.4 486L1308.2 480.5Q1308.2 480 1307.8 479.7L1305.7 478Q1305 477.5 1305.1 476.6L1305.5 473.5Q1305.6 473 1306.1 472.8L1307 472.3Q1307.6 472 1307.6 471.4L1307.6 463.6Q1307.6 463 1307 462.7L1306.1 462.2Q1305.6 462 1305.5 461.5L1305.1 458.5Q1305 457.5 1305.8 457L1307.7 455.8Q1308.2 455.5 1308.2 455L1308.4 449.8Q1308.4 448.8 1309.4 448.8Z" fill="#1e2024" stroke="#0a0a0a" stroke-width="0.8"/>
<g transform="translate(1288.8 467.9) scale(0.95)"><use href="#st6"/></g>
<path d="M1320.6 465.1Q1320.6 464.4 1321.3 464.3L1325.1 463.7Q1325.6 463.6 1326 464L1327.7 465.7Q1328 466 1328 466.4L1328 469.6Q1328 470 1327.7 470.3L1326 472Q1325.6 472.4 1325.1 472.3L1321.3 471.7Q1320.6 471.6 1320.6 470.9Z" fill="#2c3036" stroke="#0a0a0a" stroke-width="0.8"/>
<circle cx="1324" cy="468" r="1.7" fill="#5a626c"/>
<path d="M1483.4 415Q1483.4 413.5 1484.9 413.5L1488.2 413.5Q1489.6 413.5 1489.7 414.9L1490 419Q1490 419.5 1490.4 419.8L1492.1 421.1Q1492.6 421.5 1492.5 422.1L1492.1 425Q1492 425.5 1491.5 425.7L1490.6 426.2Q1490 426.5 1490 427.1L1490 429.9Q1490 430.5 1490.6 430.8L1491.5 431.3Q1492 431.5 1492.1 432L1492.5 434.9Q1492.6 435.5 1492.1 435.9L1490.4 437.2Q1490 437.5 1490 438L1489.7 442.1Q1489.6 443.5 1488.2 443.5L1484.9 443.5Q1483.4 443.5 1483.4 442Z" fill="#2a2e34" stroke="#0f1114" stroke-width="0.8"/>
<path d="M1483.4 451.5Q1483.4 450 1484.9 450L1488.2 450Q1489.6 450 1489.7 451.4L1490 455.5Q1490 456 1490.4 456.3L1492.1 457.6Q1492.6 458 1492.5 458.6L1492.1 461.5Q1492 462 1491.5 462.2L1490.6 462.7Q1490 463 1490 463.6L1490 472Q1490 472.6 1490.6 472.9L1491.5 473.4Q1492 473.6 1492.1 474.1L1492.5 477Q1492.6 477.6 1492.1 478L1490.4 479.3Q1490 479.6 1490 480.1L1489.7 484.2Q1489.6 485.6 1488.2 485.6L1484.9 485.6Q1483.4 485.6 1483.4 484.1Z" fill="#2a2e34" stroke="#0f1114" stroke-width="0.8"/>
<path d="M1483.4 493.5Q1483.4 492 1484.9 492L1488.2 492Q1489.6 492 1489.7 493.4L1490 497.5Q1490 498 1490.4 498.3L1492.1 499.6Q1492.6 500 1492.5 500.6L1492.1 503.5Q1492 504 1491.5 504.2L1490.6 504.7Q1490 505 1490 505.6L1490 508Q1490 508.6 1490.6 508.9L1491.5 509.4Q1492 509.6 1492.1 510.1L1492.5 513Q1492.6 513.6 1492.1 514L1490.4 515.3Q1490 515.6 1490 516.1L1489.7 520.2Q1489.6 521.6 1488.2 521.6L1484.9 521.6Q1483.4 521.6 1483.4 520.1Z" fill="#2a2e34" stroke="#0f1114" stroke-width="0.8"/>
<path d="M1535.4 420Q1536.4 420 1536.4 421L1536.4 450.8Q1536.4 451.8 1535.4 451.8L1532.1 451.8Q1530.6 451.8 1530.6 450.3L1530.4 445.4Q1530.4 445 1530.1 444.7L1528 442.6Q1527.4 442 1527.5 441.2L1528.1 438Q1528.2 437.5 1528.7 437.3L1529.8 436.8Q1530.4 436.5 1530.4 435.9L1530.4 428.5Q1530.4 428 1530 427.7L1528.4 426.4Q1528 426 1528.1 425.5L1528.5 422Q1528.6 421.6 1529 421.3L1530.7 420.2Q1531 420 1531.3 420Z" fill="#2a2e34" stroke="#0f1114" stroke-width="0.8"/>
<path d="M1492.6 401.2H1510.4" fill="none" stroke="#14171b" stroke-width="1.6"/>
<path d="M1496 402Q1501.5 410.5 1507 402L1505.6 402Q1501.5 407 1497.4 402Z" fill="#3a424c" stroke="#15181c" stroke-width="0.8"/>
<circle cx="1501.5" cy="404.6" r="2" fill="#2a3038"/>
<rect x="1514.5" y="428.8" width="7.4" height="7.4" fill="#5b7288" rx="0.8" stroke="#1a1e24" stroke-width="1" transform="rotate(28 1518.2 432.5)"/>
<path d="M1535.4 514.6Q1536.4 514.6 1536.4 513.6L1536.4 483.8Q1536.4 482.8 1535.4 482.8L1532.1 482.8Q1530.6 482.8 1530.6 484.3L1530.4 489.2Q1530.4 489.6 1530.1 489.9L1528 492Q1527.4 492.6 1527.5 493.4L1528.1 496.6Q1528.2 497.1 1528.7 497.3L1529.8 497.8Q1530.4 498.1 1530.4 498.7L1530.4 506.1Q1530.4 506.6 1530 506.9L1528.4 508.2Q1528 508.6 1528.1 509.1L1528.5 512.6Q1528.6 513 1529 513.3L1530.7 514.4Q1531 514.6 1531.3 514.6Z" fill="#2a2e34" stroke="#0f1114" stroke-width="0.8"/>
<path d="M1492.6 533.4H1510.4" fill="none" stroke="#14171b" stroke-width="1.6"/>
<path d="M1496 532.6Q1501.5 524.1 1507 532.6L1505.6 532.6Q1501.5 527.6 1497.4 532.6Z" fill="#3a424c" stroke="#15181c" stroke-width="0.8"/>
<circle cx="1501.5" cy="530" r="2" fill="#2a3038"/>
<rect x="1514.5" y="498.4" width="7.4" height="7.4" fill="#5b7288" rx="0.8" stroke="#1a1e24" stroke-width="1" transform="rotate(-28 1518.2 502.1)"/>
<circle cx="1811.3" cy="443.8" r="10.9" fill="#cfe2ff" opacity="0.75" filter="url(#bl)"/><circle cx="1811.3" cy="443.8" r="8.9" fill="#5b97e2"/><text x="1811.3" y="450.3" font-size="18.4" text-anchor="middle" style="fill:#fff;font-style:normal" textLength="9.2" lengthAdjust="spacingAndGlyphs">1</text>
<circle cx="1630" cy="466.4" r="10.9" fill="#cfe2ff" opacity="0.75" filter="url(#bl)"/><circle cx="1630" cy="466.4" r="8.9" fill="#5b97e2"/><text x="1630" y="472.9" font-size="18.4" text-anchor="middle" style="fill:#fff;font-style:normal" textLength="9.2" lengthAdjust="spacingAndGlyphs">2</text>
<circle cx="1526.7" cy="598.3" r="10.9" fill="#cfe2ff" opacity="0.75" filter="url(#bl)"/><circle cx="1526.7" cy="598.3" r="8.9" fill="#5b97e2"/><text x="1526.7" y="604.8" font-size="18.4" text-anchor="middle" style="fill:#fff;font-style:normal" textLength="9.2" lengthAdjust="spacingAndGlyphs">3</text>
<circle cx="1663.2" cy="598" r="10.9" fill="#cfe2ff" opacity="0.75" filter="url(#bl)"/><circle cx="1663.2" cy="598" r="8.9" fill="#5b97e2"/><text x="1663.2" y="604.5" font-size="18.4" text-anchor="middle" style="fill:#fff;font-style:normal" textLength="9.2" lengthAdjust="spacingAndGlyphs">4</text>
<g filter="url(#ds)"><circle cx="1326.3" cy="485" r="9.3" fill="#f6ad1e"/></g><text x="1326.3" y="491.5" font-size="18.4" text-anchor="middle" style="fill:#fff;font-style:normal" textLength="9.2" lengthAdjust="spacingAndGlyphs">5</text>
<g filter="url(#ds)"><circle cx="1132" cy="470.8" r="9.3" fill="#e8365a"/></g><text x="1132" y="477.3" font-size="18.4" text-anchor="middle" style="fill:#fff;font-style:normal" textLength="9.2" lengthAdjust="spacingAndGlyphs">6</text>
<g filter="url(#ds)"><circle cx="1304" cy="376.1" r="9.3" fill="#58e05a"/></g><text x="1304" y="382.6" font-size="18.4" text-anchor="middle" style="fill:#fff;font-style:normal" textLength="9.2" lengthAdjust="spacingAndGlyphs">7</text>
<g filter="url(#ds)"><circle cx="1385.2" cy="355" r="9.3" fill="#f6ad1e"/></g><text x="1385.2" y="361.5" font-size="18.4" text-anchor="middle" style="fill:#fff;font-style:normal" textLength="9.2" lengthAdjust="spacingAndGlyphs">8</text>
<g filter="url(#ds)"><circle cx="1437.9" cy="355" r="9.3" fill="#f6ad1e"/></g><text x="1437.9" y="361.5" font-size="18.4" text-anchor="middle" style="fill:#fff;font-style:normal" textLength="9.2" lengthAdjust="spacingAndGlyphs">9</text>
<g filter="url(#ds)"><circle cx="1191.7" cy="439.2" r="9.3" fill="#f6ad1e"/></g><text x="1191.7" y="443.7" font-size="12.6" text-anchor="middle" style="fill:#fff;font-style:normal" textLength="13" lengthAdjust="spacingAndGlyphs">10</text>
</g>
</svg>
</body></html>
